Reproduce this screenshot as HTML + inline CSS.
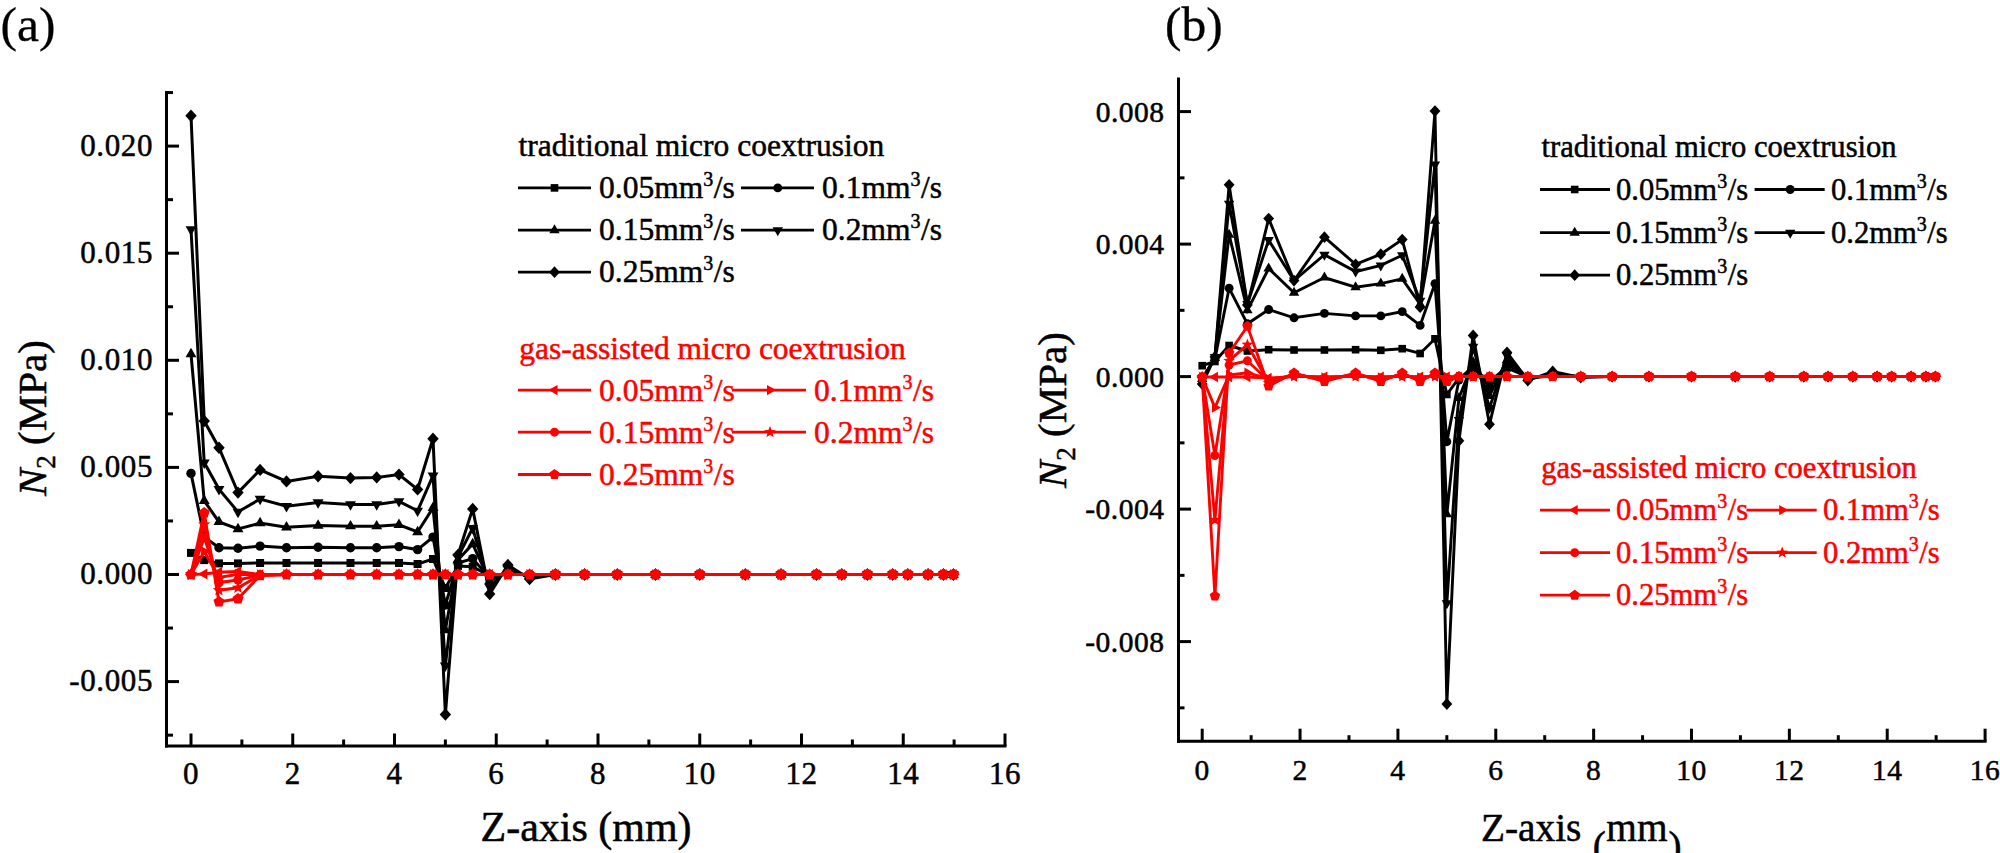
<!DOCTYPE html>
<html><head><meta charset="utf-8"><style>
html,body{margin:0;padding:0;background:#fff;width:2000px;height:853px;overflow:hidden}
svg{display:block}
text{font-family:"Liberation Serif",serif;fill:#000;stroke:#000;stroke-width:0.5px}
.tk{font-size:31px;letter-spacing:0.6px}
.tkb{font-size:29.5px;letter-spacing:0.5px}
.lg{font-size:31.5px}
.lgb{font-size:30.6px}
.sup{font-size:20px}
.pl{font-size:49.5px;stroke-width:0.3px}
.ax{font-size:41px}
.ax2{font-size:42px}
.axb{font-size:39.3px}
.sub{font-size:27px}
</style></head><body>
<svg width="2000" height="853" viewBox="0 0 2000 853">
<rect width="2000" height="853" fill="#fff"/>
<line x1="166.5" y1="91.0" x2="166.5" y2="747.5" stroke="#000" stroke-width="3.0"/><line x1="165.0" y1="746.0" x2="1006.5" y2="746.0" stroke="#000" stroke-width="3.0"/><line x1="166.5" y1="735.15" x2="173.0" y2="735.15" stroke="#000" stroke-width="3.0"/><line x1="166.5" y1="681.60" x2="179.0" y2="681.60" stroke="#000" stroke-width="3.0"/><text x="153" y="691.10" text-anchor="end" class="tk">-0.005</text><line x1="166.5" y1="628.05" x2="173.0" y2="628.05" stroke="#000" stroke-width="3.0"/><line x1="166.5" y1="574.50" x2="179.0" y2="574.50" stroke="#000" stroke-width="3.0"/><text x="153" y="584.00" text-anchor="end" class="tk">0.000</text><line x1="166.5" y1="520.95" x2="173.0" y2="520.95" stroke="#000" stroke-width="3.0"/><line x1="166.5" y1="467.40" x2="179.0" y2="467.40" stroke="#000" stroke-width="3.0"/><text x="153" y="476.90" text-anchor="end" class="tk">0.005</text><line x1="166.5" y1="413.85" x2="173.0" y2="413.85" stroke="#000" stroke-width="3.0"/><line x1="166.5" y1="360.30" x2="179.0" y2="360.30" stroke="#000" stroke-width="3.0"/><text x="153" y="369.80" text-anchor="end" class="tk">0.010</text><line x1="166.5" y1="306.75" x2="173.0" y2="306.75" stroke="#000" stroke-width="3.0"/><line x1="166.5" y1="253.20" x2="179.0" y2="253.20" stroke="#000" stroke-width="3.0"/><text x="153" y="262.70" text-anchor="end" class="tk">0.015</text><line x1="166.5" y1="199.65" x2="173.0" y2="199.65" stroke="#000" stroke-width="3.0"/><line x1="166.5" y1="146.10" x2="179.0" y2="146.10" stroke="#000" stroke-width="3.0"/><text x="153" y="155.60" text-anchor="end" class="tk">0.020</text><line x1="166.5" y1="92.55" x2="173.0" y2="92.55" stroke="#000" stroke-width="3.0"/><line x1="191.00" y1="746.0" x2="191.00" y2="733.5" stroke="#000" stroke-width="3.0"/><text x="191.00" y="784" text-anchor="middle" class="tk">0</text><line x1="241.88" y1="746.0" x2="241.88" y2="739.5" stroke="#000" stroke-width="3.0"/><line x1="292.75" y1="746.0" x2="292.75" y2="733.5" stroke="#000" stroke-width="3.0"/><text x="292.75" y="784" text-anchor="middle" class="tk">2</text><line x1="343.62" y1="746.0" x2="343.62" y2="739.5" stroke="#000" stroke-width="3.0"/><line x1="394.50" y1="746.0" x2="394.50" y2="733.5" stroke="#000" stroke-width="3.0"/><text x="394.50" y="784" text-anchor="middle" class="tk">4</text><line x1="445.38" y1="746.0" x2="445.38" y2="739.5" stroke="#000" stroke-width="3.0"/><line x1="496.25" y1="746.0" x2="496.25" y2="733.5" stroke="#000" stroke-width="3.0"/><text x="496.25" y="784" text-anchor="middle" class="tk">6</text><line x1="547.12" y1="746.0" x2="547.12" y2="739.5" stroke="#000" stroke-width="3.0"/><line x1="598.00" y1="746.0" x2="598.00" y2="733.5" stroke="#000" stroke-width="3.0"/><text x="598.00" y="784" text-anchor="middle" class="tk">8</text><line x1="648.88" y1="746.0" x2="648.88" y2="739.5" stroke="#000" stroke-width="3.0"/><line x1="699.75" y1="746.0" x2="699.75" y2="733.5" stroke="#000" stroke-width="3.0"/><text x="699.75" y="784" text-anchor="middle" class="tk">10</text><line x1="750.62" y1="746.0" x2="750.62" y2="739.5" stroke="#000" stroke-width="3.0"/><line x1="801.50" y1="746.0" x2="801.50" y2="733.5" stroke="#000" stroke-width="3.0"/><text x="801.50" y="784" text-anchor="middle" class="tk">12</text><line x1="852.38" y1="746.0" x2="852.38" y2="739.5" stroke="#000" stroke-width="3.0"/><line x1="903.25" y1="746.0" x2="903.25" y2="733.5" stroke="#000" stroke-width="3.0"/><text x="903.25" y="784" text-anchor="middle" class="tk">14</text><line x1="954.12" y1="746.0" x2="954.12" y2="739.5" stroke="#000" stroke-width="3.0"/><line x1="1005.00" y1="746.0" x2="1005.00" y2="733.5" stroke="#000" stroke-width="3.0"/><text x="1005.00" y="784" text-anchor="middle" class="tk">16</text><polyline points="191.00,552.90 204.23,560.10 218.98,563.40 238.01,563.40 260.09,563.00 286.49,563.00 318.09,563.00 350.49,563.00 376.69,563.00 398.98,563.00 417.60,564.00 433.01,559.00 445.38,588.00 457.94,566.00 472.69,566.80 489.69,576.00 507.90,573.50 529.57,575.00 555.42,574.50 584.62,574.50 617.28,574.50 655.49,574.50 699.75,574.50 745.28,574.50 781.00,574.50 816.51,574.50 841.79,574.50 867.38,574.50 892.72,574.50 907.83,574.50 928.08,574.50 943.49,574.50 953.41,574.50" fill="none" stroke="#000" stroke-width="3.0" stroke-linejoin="miter" stroke-miterlimit="3"/><rect x="187.00" y="548.90" width="8.00" height="8.00" fill="#000"/><rect x="200.23" y="556.10" width="8.00" height="8.00" fill="#000"/><rect x="214.98" y="559.40" width="8.00" height="8.00" fill="#000"/><rect x="234.01" y="559.40" width="8.00" height="8.00" fill="#000"/><rect x="256.09" y="559.00" width="8.00" height="8.00" fill="#000"/><rect x="282.49" y="559.00" width="8.00" height="8.00" fill="#000"/><rect x="314.09" y="559.00" width="8.00" height="8.00" fill="#000"/><rect x="346.49" y="559.00" width="8.00" height="8.00" fill="#000"/><rect x="372.69" y="559.00" width="8.00" height="8.00" fill="#000"/><rect x="394.98" y="559.00" width="8.00" height="8.00" fill="#000"/><rect x="413.60" y="560.00" width="8.00" height="8.00" fill="#000"/><rect x="429.01" y="555.00" width="8.00" height="8.00" fill="#000"/><rect x="441.38" y="584.00" width="8.00" height="8.00" fill="#000"/><rect x="453.94" y="562.00" width="8.00" height="8.00" fill="#000"/><rect x="468.69" y="562.80" width="8.00" height="8.00" fill="#000"/><rect x="485.69" y="572.00" width="8.00" height="8.00" fill="#000"/><rect x="503.90" y="569.50" width="8.00" height="8.00" fill="#000"/><rect x="525.57" y="571.00" width="8.00" height="8.00" fill="#000"/><rect x="551.42" y="570.50" width="8.00" height="8.00" fill="#000"/><rect x="580.62" y="570.50" width="8.00" height="8.00" fill="#000"/><rect x="613.28" y="570.50" width="8.00" height="8.00" fill="#000"/><rect x="651.49" y="570.50" width="8.00" height="8.00" fill="#000"/><rect x="695.75" y="570.50" width="8.00" height="8.00" fill="#000"/><rect x="741.28" y="570.50" width="8.00" height="8.00" fill="#000"/><rect x="777.00" y="570.50" width="8.00" height="8.00" fill="#000"/><rect x="812.51" y="570.50" width="8.00" height="8.00" fill="#000"/><rect x="837.79" y="570.50" width="8.00" height="8.00" fill="#000"/><rect x="863.38" y="570.50" width="8.00" height="8.00" fill="#000"/><rect x="888.72" y="570.50" width="8.00" height="8.00" fill="#000"/><rect x="903.83" y="570.50" width="8.00" height="8.00" fill="#000"/><rect x="924.08" y="570.50" width="8.00" height="8.00" fill="#000"/><rect x="939.49" y="570.50" width="8.00" height="8.00" fill="#000"/><rect x="949.41" y="570.50" width="8.00" height="8.00" fill="#000"/><polyline points="191.00,473.40 204.23,537.00 218.98,547.70 238.01,548.20 260.09,546.10 286.49,547.70 318.09,547.30 350.49,547.70 376.69,547.70 398.98,546.60 417.60,549.60 433.01,537.10 445.38,605.00 457.94,563.00 472.69,558.60 489.69,578.00 507.90,572.50 529.57,575.50 555.42,574.50 584.62,574.50 617.28,574.50 655.49,574.50 699.75,574.50 745.28,574.50 781.00,574.50 816.51,574.50 841.79,574.50 867.38,574.50 892.72,574.50 907.83,574.50 928.08,574.50 943.49,574.50 953.41,574.50" fill="none" stroke="#000" stroke-width="3.0" stroke-linejoin="miter" stroke-miterlimit="3"/><circle cx="191.00" cy="473.40" r="4.70" fill="#000"/><circle cx="204.23" cy="537.00" r="4.70" fill="#000"/><circle cx="218.98" cy="547.70" r="4.70" fill="#000"/><circle cx="238.01" cy="548.20" r="4.70" fill="#000"/><circle cx="260.09" cy="546.10" r="4.70" fill="#000"/><circle cx="286.49" cy="547.70" r="4.70" fill="#000"/><circle cx="318.09" cy="547.30" r="4.70" fill="#000"/><circle cx="350.49" cy="547.70" r="4.70" fill="#000"/><circle cx="376.69" cy="547.70" r="4.70" fill="#000"/><circle cx="398.98" cy="546.60" r="4.70" fill="#000"/><circle cx="417.60" cy="549.60" r="4.70" fill="#000"/><circle cx="433.01" cy="537.10" r="4.70" fill="#000"/><circle cx="445.38" cy="605.00" r="4.70" fill="#000"/><circle cx="457.94" cy="563.00" r="4.70" fill="#000"/><circle cx="472.69" cy="558.60" r="4.70" fill="#000"/><circle cx="489.69" cy="578.00" r="4.70" fill="#000"/><circle cx="507.90" cy="572.50" r="4.70" fill="#000"/><circle cx="529.57" cy="575.50" r="4.70" fill="#000"/><circle cx="555.42" cy="574.50" r="4.70" fill="#000"/><circle cx="584.62" cy="574.50" r="4.70" fill="#000"/><circle cx="617.28" cy="574.50" r="4.70" fill="#000"/><circle cx="655.49" cy="574.50" r="4.70" fill="#000"/><circle cx="699.75" cy="574.50" r="4.70" fill="#000"/><circle cx="745.28" cy="574.50" r="4.70" fill="#000"/><circle cx="781.00" cy="574.50" r="4.70" fill="#000"/><circle cx="816.51" cy="574.50" r="4.70" fill="#000"/><circle cx="841.79" cy="574.50" r="4.70" fill="#000"/><circle cx="867.38" cy="574.50" r="4.70" fill="#000"/><circle cx="892.72" cy="574.50" r="4.70" fill="#000"/><circle cx="907.83" cy="574.50" r="4.70" fill="#000"/><circle cx="928.08" cy="574.50" r="4.70" fill="#000"/><circle cx="943.49" cy="574.50" r="4.70" fill="#000"/><circle cx="953.41" cy="574.50" r="4.70" fill="#000"/><polyline points="191.00,354.00 204.23,500.90 218.98,521.90 238.01,529.00 260.09,523.10 286.49,527.30 318.09,525.50 350.49,526.20 376.69,526.20 398.98,524.80 417.60,532.00 433.01,507.90 445.38,630.00 457.94,560.00 472.69,544.00 489.69,581.00 507.90,571.00 529.57,576.00 555.42,574.50 584.62,574.50 617.28,574.50 655.49,574.50 699.75,574.50 745.28,574.50 781.00,574.50 816.51,574.50 841.79,574.50 867.38,574.50 892.72,574.50 907.83,574.50 928.08,574.50 943.49,574.50 953.41,574.50" fill="none" stroke="#000" stroke-width="3.0" stroke-linejoin="miter" stroke-miterlimit="3"/><polygon points="191.00,347.70 196.46,357.15 185.54,357.15" fill="#000"/><polygon points="204.23,494.60 209.68,504.05 198.77,504.05" fill="#000"/><polygon points="218.98,515.60 224.44,525.05 213.53,525.05" fill="#000"/><polygon points="238.01,522.70 243.46,532.15 232.55,532.15" fill="#000"/><polygon points="260.09,516.80 265.54,526.25 254.63,526.25" fill="#000"/><polygon points="286.49,521.00 291.95,530.45 281.04,530.45" fill="#000"/><polygon points="318.09,519.20 323.54,528.65 312.63,528.65" fill="#000"/><polygon points="350.49,519.90 355.95,529.35 345.04,529.35" fill="#000"/><polygon points="376.69,519.90 382.15,529.35 371.24,529.35" fill="#000"/><polygon points="398.98,518.50 404.43,527.95 393.52,527.95" fill="#000"/><polygon points="417.60,525.70 423.05,535.15 412.14,535.15" fill="#000"/><polygon points="433.01,501.60 438.47,511.05 427.56,511.05" fill="#000"/><polygon points="445.38,623.70 450.83,633.15 439.92,633.15" fill="#000"/><polygon points="457.94,553.70 463.40,563.15 452.49,563.15" fill="#000"/><polygon points="472.69,537.70 478.15,547.15 467.24,547.15" fill="#000"/><polygon points="489.69,574.70 495.14,584.15 484.23,584.15" fill="#000"/><polygon points="507.90,564.70 513.36,574.15 502.44,574.15" fill="#000"/><polygon points="529.57,569.70 535.03,579.15 524.12,579.15" fill="#000"/><polygon points="555.42,568.20 560.87,577.65 549.96,577.65" fill="#000"/><polygon points="584.62,568.20 590.08,577.65 579.16,577.65" fill="#000"/><polygon points="617.28,568.20 622.74,577.65 611.83,577.65" fill="#000"/><polygon points="655.49,568.20 660.94,577.65 650.03,577.65" fill="#000"/><polygon points="699.75,568.20 705.21,577.65 694.29,577.65" fill="#000"/><polygon points="745.28,568.20 750.74,577.65 739.83,577.65" fill="#000"/><polygon points="781.00,568.20 786.45,577.65 775.54,577.65" fill="#000"/><polygon points="816.51,568.20 821.96,577.65 811.05,577.65" fill="#000"/><polygon points="841.79,568.20 847.25,577.65 836.34,577.65" fill="#000"/><polygon points="867.38,568.20 872.84,577.65 861.93,577.65" fill="#000"/><polygon points="892.72,568.20 898.17,577.65 887.26,577.65" fill="#000"/><polygon points="907.83,568.20 913.28,577.65 902.37,577.65" fill="#000"/><polygon points="928.08,568.20 933.53,577.65 922.62,577.65" fill="#000"/><polygon points="943.49,568.20 948.95,577.65 938.04,577.65" fill="#000"/><polygon points="953.41,568.20 958.87,577.65 947.96,577.65" fill="#000"/><polyline points="191.00,229.50 204.23,462.60 218.98,489.10 238.01,511.90 260.09,499.00 286.49,506.20 318.09,502.50 350.49,504.40 376.69,504.40 398.98,501.30 417.60,510.80 433.01,475.60 445.38,665.70 457.94,557.00 472.69,528.10 489.69,587.00 507.90,569.00 529.57,577.00 555.42,574.50 584.62,574.50 617.28,574.50 655.49,574.50 699.75,574.50 745.28,574.50 781.00,574.50 816.51,574.50 841.79,574.50 867.38,574.50 892.72,574.50 907.83,574.50 928.08,574.50 943.49,574.50 953.41,574.50" fill="none" stroke="#000" stroke-width="3.0" stroke-linejoin="miter" stroke-miterlimit="3"/><polygon points="191.00,235.80 185.54,226.35 196.46,226.35" fill="#000"/><polygon points="204.23,468.90 198.77,459.45 209.68,459.45" fill="#000"/><polygon points="218.98,495.40 213.53,485.95 224.44,485.95" fill="#000"/><polygon points="238.01,518.20 232.55,508.75 243.46,508.75" fill="#000"/><polygon points="260.09,505.30 254.63,495.85 265.54,495.85" fill="#000"/><polygon points="286.49,512.50 281.04,503.05 291.95,503.05" fill="#000"/><polygon points="318.09,508.80 312.63,499.35 323.54,499.35" fill="#000"/><polygon points="350.49,510.70 345.04,501.25 355.95,501.25" fill="#000"/><polygon points="376.69,510.70 371.24,501.25 382.15,501.25" fill="#000"/><polygon points="398.98,507.60 393.52,498.15 404.43,498.15" fill="#000"/><polygon points="417.60,517.10 412.14,507.65 423.05,507.65" fill="#000"/><polygon points="433.01,481.90 427.56,472.45 438.47,472.45" fill="#000"/><polygon points="445.38,672.00 439.92,662.55 450.83,662.55" fill="#000"/><polygon points="457.94,563.30 452.49,553.85 463.40,553.85" fill="#000"/><polygon points="472.69,534.40 467.24,524.95 478.15,524.95" fill="#000"/><polygon points="489.69,593.30 484.23,583.85 495.14,583.85" fill="#000"/><polygon points="507.90,575.30 502.44,565.85 513.36,565.85" fill="#000"/><polygon points="529.57,583.30 524.12,573.85 535.03,573.85" fill="#000"/><polygon points="555.42,580.80 549.96,571.35 560.87,571.35" fill="#000"/><polygon points="584.62,580.80 579.16,571.35 590.08,571.35" fill="#000"/><polygon points="617.28,580.80 611.83,571.35 622.74,571.35" fill="#000"/><polygon points="655.49,580.80 650.03,571.35 660.94,571.35" fill="#000"/><polygon points="699.75,580.80 694.29,571.35 705.21,571.35" fill="#000"/><polygon points="745.28,580.80 739.83,571.35 750.74,571.35" fill="#000"/><polygon points="781.00,580.80 775.54,571.35 786.45,571.35" fill="#000"/><polygon points="816.51,580.80 811.05,571.35 821.96,571.35" fill="#000"/><polygon points="841.79,580.80 836.34,571.35 847.25,571.35" fill="#000"/><polygon points="867.38,580.80 861.93,571.35 872.84,571.35" fill="#000"/><polygon points="892.72,580.80 887.26,571.35 898.17,571.35" fill="#000"/><polygon points="907.83,580.80 902.37,571.35 913.28,571.35" fill="#000"/><polygon points="928.08,580.80 922.62,571.35 933.53,571.35" fill="#000"/><polygon points="943.49,580.80 938.04,571.35 948.95,571.35" fill="#000"/><polygon points="953.41,580.80 947.96,571.35 958.87,571.35" fill="#000"/><polyline points="191.00,115.80 204.23,421.00 218.98,447.70 238.01,492.60 260.09,469.90 286.49,481.40 318.09,476.20 350.49,478.10 376.69,477.40 398.98,474.60 417.60,489.40 433.01,438.80 445.38,714.50 457.94,555.00 472.69,508.90 489.69,594.00 507.90,565.00 529.57,579.00 555.42,574.50 584.62,574.50 617.28,574.50 655.49,574.50 699.75,574.50 745.28,574.50 781.00,574.50 816.51,574.50 841.79,574.50 867.38,574.50 892.72,574.50 907.83,574.50 928.08,574.50 943.49,574.50 953.41,574.50" fill="none" stroke="#000" stroke-width="3.0" stroke-linejoin="miter" stroke-miterlimit="3"/><path d="M191.00 109.60L196.70 115.80L191.00 122.00L185.30 115.80Z" fill="#000"/><path d="M204.23 414.80L209.93 421.00L204.23 427.20L198.53 421.00Z" fill="#000"/><path d="M218.98 441.50L224.68 447.70L218.98 453.90L213.28 447.70Z" fill="#000"/><path d="M238.01 486.40L243.71 492.60L238.01 498.80L232.31 492.60Z" fill="#000"/><path d="M260.09 463.70L265.79 469.90L260.09 476.10L254.39 469.90Z" fill="#000"/><path d="M286.49 475.20L292.19 481.40L286.49 487.60L280.79 481.40Z" fill="#000"/><path d="M318.09 470.00L323.79 476.20L318.09 482.40L312.39 476.20Z" fill="#000"/><path d="M350.49 471.90L356.19 478.10L350.49 484.30L344.79 478.10Z" fill="#000"/><path d="M376.69 471.20L382.39 477.40L376.69 483.60L370.99 477.40Z" fill="#000"/><path d="M398.98 468.40L404.68 474.60L398.98 480.80L393.28 474.60Z" fill="#000"/><path d="M417.60 483.20L423.30 489.40L417.60 495.60L411.90 489.40Z" fill="#000"/><path d="M433.01 432.60L438.71 438.80L433.01 445.00L427.31 438.80Z" fill="#000"/><path d="M445.38 708.30L451.07 714.50L445.38 720.70L439.68 714.50Z" fill="#000"/><path d="M457.94 548.80L463.64 555.00L457.94 561.20L452.24 555.00Z" fill="#000"/><path d="M472.69 502.70L478.39 508.90L472.69 515.10L466.99 508.90Z" fill="#000"/><path d="M489.69 587.80L495.39 594.00L489.69 600.20L483.99 594.00Z" fill="#000"/><path d="M507.90 558.80L513.60 565.00L507.90 571.20L502.20 565.00Z" fill="#000"/><path d="M529.57 572.80L535.27 579.00L529.57 585.20L523.87 579.00Z" fill="#000"/><path d="M555.42 568.30L561.12 574.50L555.42 580.70L549.72 574.50Z" fill="#000"/><path d="M584.62 568.30L590.32 574.50L584.62 580.70L578.92 574.50Z" fill="#000"/><path d="M617.28 568.30L622.98 574.50L617.28 580.70L611.58 574.50Z" fill="#000"/><path d="M655.49 568.30L661.19 574.50L655.49 580.70L649.79 574.50Z" fill="#000"/><path d="M699.75 568.30L705.45 574.50L699.75 580.70L694.05 574.50Z" fill="#000"/><path d="M745.28 568.30L750.98 574.50L745.28 580.70L739.58 574.50Z" fill="#000"/><path d="M781.00 568.30L786.70 574.50L781.00 580.70L775.30 574.50Z" fill="#000"/><path d="M816.51 568.30L822.21 574.50L816.51 580.70L810.81 574.50Z" fill="#000"/><path d="M841.79 568.30L847.49 574.50L841.79 580.70L836.09 574.50Z" fill="#000"/><path d="M867.38 568.30L873.08 574.50L867.38 580.70L861.68 574.50Z" fill="#000"/><path d="M892.72 568.30L898.42 574.50L892.72 580.70L887.02 574.50Z" fill="#000"/><path d="M907.83 568.30L913.53 574.50L907.83 580.70L902.13 574.50Z" fill="#000"/><path d="M928.08 568.30L933.78 574.50L928.08 580.70L922.38 574.50Z" fill="#000"/><path d="M943.49 568.30L949.19 574.50L943.49 580.70L937.79 574.50Z" fill="#000"/><path d="M953.41 568.30L959.11 574.50L953.41 580.70L947.71 574.50Z" fill="#000"/><polyline points="191.00,574.50 204.23,574.00 218.98,572.30 238.01,571.60 260.09,574.60 286.49,574.50 318.09,574.50 350.49,574.50 376.69,574.50 398.98,574.50 417.60,574.50 433.01,574.50 445.38,574.50 457.94,574.50 472.69,574.50 489.69,574.50 507.90,574.50 529.57,574.50 555.42,574.50 584.62,574.50 617.28,574.50 655.49,574.50 699.75,574.50 745.28,574.50 781.00,574.50 816.51,574.50 841.79,574.50 867.38,574.50 892.72,574.50 907.83,574.50 928.08,574.50 943.49,574.50 953.41,574.50" fill="none" stroke="#ff0000" stroke-width="3.0" stroke-linejoin="miter" stroke-miterlimit="3"/><polygon points="184.70,574.50 194.15,569.04 194.15,579.96" fill="#ff0000"/><polygon points="197.93,574.00 207.38,568.54 207.38,579.46" fill="#ff0000"/><polygon points="212.68,572.30 222.13,566.84 222.13,577.76" fill="#ff0000"/><polygon points="231.71,571.60 241.16,566.14 241.16,577.06" fill="#ff0000"/><polygon points="253.79,574.60 263.24,569.14 263.24,580.06" fill="#ff0000"/><polygon points="280.19,574.50 289.64,569.04 289.64,579.96" fill="#ff0000"/><polygon points="311.79,574.50 321.24,569.04 321.24,579.96" fill="#ff0000"/><polygon points="344.19,574.50 353.64,569.04 353.64,579.96" fill="#ff0000"/><polygon points="370.39,574.50 379.84,569.04 379.84,579.96" fill="#ff0000"/><polygon points="392.68,574.50 402.13,569.04 402.13,579.96" fill="#ff0000"/><polygon points="411.30,574.50 420.75,569.04 420.75,579.96" fill="#ff0000"/><polygon points="426.71,574.50 436.16,569.04 436.16,579.96" fill="#ff0000"/><polygon points="439.07,574.50 448.52,569.04 448.52,579.96" fill="#ff0000"/><polygon points="451.64,574.50 461.09,569.04 461.09,579.96" fill="#ff0000"/><polygon points="466.39,574.50 475.84,569.04 475.84,579.96" fill="#ff0000"/><polygon points="483.39,574.50 492.84,569.04 492.84,579.96" fill="#ff0000"/><polygon points="501.60,574.50 511.05,569.04 511.05,579.96" fill="#ff0000"/><polygon points="523.27,574.50 532.72,569.04 532.72,579.96" fill="#ff0000"/><polygon points="549.12,574.50 558.57,569.04 558.57,579.96" fill="#ff0000"/><polygon points="578.32,574.50 587.77,569.04 587.77,579.96" fill="#ff0000"/><polygon points="610.98,574.50 620.43,569.04 620.43,579.96" fill="#ff0000"/><polygon points="649.19,574.50 658.64,569.04 658.64,579.96" fill="#ff0000"/><polygon points="693.45,574.50 702.90,569.04 702.90,579.96" fill="#ff0000"/><polygon points="738.98,574.50 748.43,569.04 748.43,579.96" fill="#ff0000"/><polygon points="774.70,574.50 784.15,569.04 784.15,579.96" fill="#ff0000"/><polygon points="810.21,574.50 819.66,569.04 819.66,579.96" fill="#ff0000"/><polygon points="835.49,574.50 844.94,569.04 844.94,579.96" fill="#ff0000"/><polygon points="861.08,574.50 870.53,569.04 870.53,579.96" fill="#ff0000"/><polygon points="886.42,574.50 895.87,569.04 895.87,579.96" fill="#ff0000"/><polygon points="901.53,574.50 910.98,569.04 910.98,579.96" fill="#ff0000"/><polygon points="921.78,574.50 931.23,569.04 931.23,579.96" fill="#ff0000"/><polygon points="937.19,574.50 946.64,569.04 946.64,579.96" fill="#ff0000"/><polygon points="947.11,574.50 956.56,569.04 956.56,579.96" fill="#ff0000"/><polyline points="191.00,574.50 204.23,551.60 218.98,577.40 238.01,574.20 260.09,574.80 286.49,574.50 318.09,574.50 350.49,574.50 376.69,574.50 398.98,574.50 417.60,574.50 433.01,574.50 445.38,574.50 457.94,574.50 472.69,574.50 489.69,574.50 507.90,574.50 529.57,574.50 555.42,574.50 584.62,574.50 617.28,574.50 655.49,574.50 699.75,574.50 745.28,574.50 781.00,574.50 816.51,574.50 841.79,574.50 867.38,574.50 892.72,574.50 907.83,574.50 928.08,574.50 943.49,574.50 953.41,574.50" fill="none" stroke="#ff0000" stroke-width="3.0" stroke-linejoin="miter" stroke-miterlimit="3"/><polygon points="197.30,574.50 187.85,579.96 187.85,569.04" fill="#ff0000"/><polygon points="210.53,551.60 201.08,557.06 201.08,546.14" fill="#ff0000"/><polygon points="225.28,577.40 215.83,582.86 215.83,571.94" fill="#ff0000"/><polygon points="244.31,574.20 234.86,579.66 234.86,568.74" fill="#ff0000"/><polygon points="266.39,574.80 256.94,580.26 256.94,569.34" fill="#ff0000"/><polygon points="292.79,574.50 283.34,579.96 283.34,569.04" fill="#ff0000"/><polygon points="324.39,574.50 314.94,579.96 314.94,569.04" fill="#ff0000"/><polygon points="356.79,574.50 347.34,579.96 347.34,569.04" fill="#ff0000"/><polygon points="382.99,574.50 373.54,579.96 373.54,569.04" fill="#ff0000"/><polygon points="405.28,574.50 395.83,579.96 395.83,569.04" fill="#ff0000"/><polygon points="423.90,574.50 414.45,579.96 414.45,569.04" fill="#ff0000"/><polygon points="439.31,574.50 429.86,579.96 429.86,569.04" fill="#ff0000"/><polygon points="451.68,574.50 442.23,579.96 442.23,569.04" fill="#ff0000"/><polygon points="464.24,574.50 454.79,579.96 454.79,569.04" fill="#ff0000"/><polygon points="478.99,574.50 469.54,579.96 469.54,569.04" fill="#ff0000"/><polygon points="495.99,574.50 486.54,579.96 486.54,569.04" fill="#ff0000"/><polygon points="514.20,574.50 504.75,579.96 504.75,569.04" fill="#ff0000"/><polygon points="535.87,574.50 526.42,579.96 526.42,569.04" fill="#ff0000"/><polygon points="561.72,574.50 552.27,579.96 552.27,569.04" fill="#ff0000"/><polygon points="590.92,574.50 581.47,579.96 581.47,569.04" fill="#ff0000"/><polygon points="623.58,574.50 614.13,579.96 614.13,569.04" fill="#ff0000"/><polygon points="661.79,574.50 652.34,579.96 652.34,569.04" fill="#ff0000"/><polygon points="706.05,574.50 696.60,579.96 696.60,569.04" fill="#ff0000"/><polygon points="751.58,574.50 742.13,579.96 742.13,569.04" fill="#ff0000"/><polygon points="787.30,574.50 777.85,579.96 777.85,569.04" fill="#ff0000"/><polygon points="822.81,574.50 813.36,579.96 813.36,569.04" fill="#ff0000"/><polygon points="848.09,574.50 838.64,579.96 838.64,569.04" fill="#ff0000"/><polygon points="873.68,574.50 864.23,579.96 864.23,569.04" fill="#ff0000"/><polygon points="899.02,574.50 889.57,579.96 889.57,569.04" fill="#ff0000"/><polygon points="914.13,574.50 904.68,579.96 904.68,569.04" fill="#ff0000"/><polygon points="934.38,574.50 924.93,579.96 924.93,569.04" fill="#ff0000"/><polygon points="949.79,574.50 940.34,579.96 940.34,569.04" fill="#ff0000"/><polygon points="959.71,574.50 950.26,579.96 950.26,569.04" fill="#ff0000"/><polyline points="191.00,574.50 204.23,537.40 218.98,582.60 238.01,580.00 260.09,575.00 286.49,574.50 318.09,574.50 350.49,574.50 376.69,574.50 398.98,574.50 417.60,574.50 433.01,574.50 445.38,574.50 457.94,574.50 472.69,574.50 489.69,574.50 507.90,574.50 529.57,574.50 555.42,574.50 584.62,574.50 617.28,574.50 655.49,574.50 699.75,574.50 745.28,574.50 781.00,574.50 816.51,574.50 841.79,574.50 867.38,574.50 892.72,574.50 907.83,574.50 928.08,574.50 943.49,574.50 953.41,574.50" fill="none" stroke="#ff0000" stroke-width="3.0" stroke-linejoin="miter" stroke-miterlimit="3"/><circle cx="191.00" cy="574.50" r="4.70" fill="#ff0000"/><circle cx="204.23" cy="537.40" r="4.70" fill="#ff0000"/><circle cx="218.98" cy="582.60" r="4.70" fill="#ff0000"/><circle cx="238.01" cy="580.00" r="4.70" fill="#ff0000"/><circle cx="260.09" cy="575.00" r="4.70" fill="#ff0000"/><circle cx="286.49" cy="574.50" r="4.70" fill="#ff0000"/><circle cx="318.09" cy="574.50" r="4.70" fill="#ff0000"/><circle cx="350.49" cy="574.50" r="4.70" fill="#ff0000"/><circle cx="376.69" cy="574.50" r="4.70" fill="#ff0000"/><circle cx="398.98" cy="574.50" r="4.70" fill="#ff0000"/><circle cx="417.60" cy="574.50" r="4.70" fill="#ff0000"/><circle cx="433.01" cy="574.50" r="4.70" fill="#ff0000"/><circle cx="445.38" cy="574.50" r="4.70" fill="#ff0000"/><circle cx="457.94" cy="574.50" r="4.70" fill="#ff0000"/><circle cx="472.69" cy="574.50" r="4.70" fill="#ff0000"/><circle cx="489.69" cy="574.50" r="4.70" fill="#ff0000"/><circle cx="507.90" cy="574.50" r="4.70" fill="#ff0000"/><circle cx="529.57" cy="574.50" r="4.70" fill="#ff0000"/><circle cx="555.42" cy="574.50" r="4.70" fill="#ff0000"/><circle cx="584.62" cy="574.50" r="4.70" fill="#ff0000"/><circle cx="617.28" cy="574.50" r="4.70" fill="#ff0000"/><circle cx="655.49" cy="574.50" r="4.70" fill="#ff0000"/><circle cx="699.75" cy="574.50" r="4.70" fill="#ff0000"/><circle cx="745.28" cy="574.50" r="4.70" fill="#ff0000"/><circle cx="781.00" cy="574.50" r="4.70" fill="#ff0000"/><circle cx="816.51" cy="574.50" r="4.70" fill="#ff0000"/><circle cx="841.79" cy="574.50" r="4.70" fill="#ff0000"/><circle cx="867.38" cy="574.50" r="4.70" fill="#ff0000"/><circle cx="892.72" cy="574.50" r="4.70" fill="#ff0000"/><circle cx="907.83" cy="574.50" r="4.70" fill="#ff0000"/><circle cx="928.08" cy="574.50" r="4.70" fill="#ff0000"/><circle cx="943.49" cy="574.50" r="4.70" fill="#ff0000"/><circle cx="953.41" cy="574.50" r="4.70" fill="#ff0000"/><polyline points="191.00,574.50 204.23,524.50 218.98,590.30 238.01,587.70 260.09,575.20 286.49,574.50 318.09,574.50 350.49,574.50 376.69,574.50 398.98,574.50 417.60,574.50 433.01,574.50 445.38,574.50 457.94,574.50 472.69,574.50 489.69,574.50 507.90,574.50 529.57,574.50 555.42,574.50 584.62,574.50 617.28,574.50 655.49,574.50 699.75,574.50 745.28,574.50 781.00,574.50 816.51,574.50 841.79,574.50 867.38,574.50 892.72,574.50 907.83,574.50 928.08,574.50 943.49,574.50 953.41,574.50" fill="none" stroke="#ff0000" stroke-width="3.0" stroke-linejoin="miter" stroke-miterlimit="3"/><polygon points="191.00,568.00 192.65,572.23 197.18,572.49 193.66,575.37 194.82,579.76 191.00,577.30 187.18,579.76 188.34,575.37 184.82,572.49 189.35,572.23" fill="#ff0000"/><polygon points="204.23,518.00 205.87,522.23 210.41,522.49 206.89,525.37 208.05,529.76 204.23,527.30 200.41,529.76 201.56,525.37 198.05,522.49 202.58,522.23" fill="#ff0000"/><polygon points="218.98,583.80 220.63,588.03 225.16,588.29 221.64,591.17 222.80,595.56 218.98,593.10 215.16,595.56 216.32,591.17 212.80,588.29 217.34,588.03" fill="#ff0000"/><polygon points="238.01,581.20 239.65,585.43 244.19,585.69 240.67,588.57 241.83,592.96 238.01,590.50 234.19,592.96 235.35,588.57 231.83,585.69 236.36,585.43" fill="#ff0000"/><polygon points="260.09,568.70 261.73,572.93 266.27,573.19 262.75,576.07 263.91,580.46 260.09,578.00 256.27,580.46 257.43,576.07 253.91,573.19 258.44,572.93" fill="#ff0000"/><polygon points="286.49,568.00 288.14,572.23 292.67,572.49 289.16,575.37 290.31,579.76 286.49,577.30 282.67,579.76 283.83,575.37 280.31,572.49 284.85,572.23" fill="#ff0000"/><polygon points="318.09,568.00 319.73,572.23 324.27,572.49 320.75,575.37 321.91,579.76 318.09,577.30 314.27,579.76 315.42,575.37 311.90,572.49 316.44,572.23" fill="#ff0000"/><polygon points="350.49,568.00 352.14,572.23 356.67,572.49 353.16,575.37 354.31,579.76 350.49,577.30 346.67,579.76 347.83,575.37 344.31,572.49 348.85,572.23" fill="#ff0000"/><polygon points="376.69,568.00 378.34,572.23 382.88,572.49 379.36,575.37 380.51,579.76 376.69,577.30 372.87,579.76 374.03,575.37 370.51,572.49 375.05,572.23" fill="#ff0000"/><polygon points="398.98,568.00 400.62,572.23 405.16,572.49 401.64,575.37 402.80,579.76 398.98,577.30 395.16,579.76 396.31,575.37 392.80,572.49 397.33,572.23" fill="#ff0000"/><polygon points="417.60,568.00 419.24,572.23 423.78,572.49 420.26,575.37 421.42,579.76 417.60,577.30 413.78,579.76 414.93,575.37 411.42,572.49 415.95,572.23" fill="#ff0000"/><polygon points="433.01,568.00 434.66,572.23 439.19,572.49 435.68,575.37 436.83,579.76 433.01,577.30 429.19,579.76 430.35,575.37 426.83,572.49 431.37,572.23" fill="#ff0000"/><polygon points="445.38,568.00 447.02,572.23 451.56,572.49 448.04,575.37 449.20,579.76 445.38,577.30 441.55,579.76 442.71,575.37 439.19,572.49 443.73,572.23" fill="#ff0000"/><polygon points="457.94,568.00 459.59,572.23 464.12,572.49 460.60,575.37 461.76,579.76 457.94,577.30 454.12,579.76 455.28,575.37 451.76,572.49 456.30,572.23" fill="#ff0000"/><polygon points="472.69,568.00 474.34,572.23 478.88,572.49 475.36,575.37 476.52,579.76 472.69,577.30 468.87,579.76 470.03,575.37 466.51,572.49 471.05,572.23" fill="#ff0000"/><polygon points="489.69,568.00 491.33,572.23 495.87,572.49 492.35,575.37 493.51,579.76 489.69,577.30 485.87,579.76 487.02,575.37 483.51,572.49 488.04,572.23" fill="#ff0000"/><polygon points="507.90,568.00 509.55,572.23 514.08,572.49 510.56,575.37 511.72,579.76 507.90,577.30 504.08,579.76 505.24,575.37 501.72,572.49 506.25,572.23" fill="#ff0000"/><polygon points="529.57,568.00 531.22,572.23 535.75,572.49 532.24,575.37 533.39,579.76 529.57,577.30 525.75,579.76 526.91,575.37 523.39,572.49 527.93,572.23" fill="#ff0000"/><polygon points="555.42,568.00 557.06,572.23 561.60,572.49 558.08,575.37 559.24,579.76 555.42,577.30 551.60,579.76 552.75,575.37 549.24,572.49 553.77,572.23" fill="#ff0000"/><polygon points="584.62,568.00 586.27,572.23 590.80,572.49 587.28,575.37 588.44,579.76 584.62,577.30 580.80,579.76 581.96,575.37 578.44,572.49 582.97,572.23" fill="#ff0000"/><polygon points="617.28,568.00 618.93,572.23 623.46,572.49 619.94,575.37 621.10,579.76 617.28,577.30 613.46,579.76 614.62,575.37 611.10,572.49 615.64,572.23" fill="#ff0000"/><polygon points="655.49,568.00 657.13,572.23 661.67,572.49 658.15,575.37 659.31,579.76 655.49,577.30 651.67,579.76 652.83,575.37 649.31,572.49 653.84,572.23" fill="#ff0000"/><polygon points="699.75,568.00 701.40,572.23 705.93,572.49 702.41,575.37 703.57,579.76 699.75,577.30 695.93,579.76 697.09,575.37 693.57,572.49 698.10,572.23" fill="#ff0000"/><polygon points="745.28,568.00 746.93,572.23 751.46,572.49 747.95,575.37 749.10,579.76 745.28,577.30 741.46,579.76 742.62,575.37 739.10,572.49 743.64,572.23" fill="#ff0000"/><polygon points="781.00,568.00 782.64,572.23 787.18,572.49 783.66,575.37 784.82,579.76 781.00,577.30 777.18,579.76 778.33,575.37 774.82,572.49 779.35,572.23" fill="#ff0000"/><polygon points="816.51,568.00 818.15,572.23 822.69,572.49 819.17,575.37 820.33,579.76 816.51,577.30 812.69,579.76 813.85,575.37 810.33,572.49 814.86,572.23" fill="#ff0000"/><polygon points="841.79,568.00 843.44,572.23 847.97,572.49 844.46,575.37 845.61,579.76 841.79,577.30 837.97,579.76 839.13,575.37 835.61,572.49 840.15,572.23" fill="#ff0000"/><polygon points="867.38,568.00 869.03,572.23 873.56,572.49 870.05,575.37 871.20,579.76 867.38,577.30 863.56,579.76 864.72,575.37 861.20,572.49 865.74,572.23" fill="#ff0000"/><polygon points="892.72,568.00 894.36,572.23 898.90,572.49 895.38,575.37 896.54,579.76 892.72,577.30 888.90,579.76 890.06,575.37 886.54,572.49 891.07,572.23" fill="#ff0000"/><polygon points="907.83,568.00 909.47,572.23 914.01,572.49 910.49,575.37 911.65,579.76 907.83,577.30 904.01,579.76 905.17,575.37 901.65,572.49 906.18,572.23" fill="#ff0000"/><polygon points="928.08,568.00 929.72,572.23 934.26,572.49 930.74,575.37 931.90,579.76 928.08,577.30 924.26,579.76 925.41,575.37 921.90,572.49 926.43,572.23" fill="#ff0000"/><polygon points="943.49,568.00 945.14,572.23 949.67,572.49 946.16,575.37 947.31,579.76 943.49,577.30 939.67,579.76 940.83,575.37 937.31,572.49 941.85,572.23" fill="#ff0000"/><polygon points="953.41,568.00 955.06,572.23 959.59,572.49 956.08,575.37 957.23,579.76 953.41,577.30 949.59,579.76 950.75,575.37 947.23,572.49 951.77,572.23" fill="#ff0000"/><polyline points="191.00,574.50 204.23,512.90 218.98,601.90 238.01,598.70 260.09,575.50 286.49,574.50 318.09,574.50 350.49,574.50 376.69,574.50 398.98,574.50 417.60,574.50 433.01,574.50 445.38,574.50 457.94,574.50 472.69,574.50 489.69,574.50 507.90,574.50 529.57,574.50 555.42,574.50 584.62,574.50 617.28,574.50 655.49,574.50 699.75,574.50 745.28,574.50 781.00,574.50 816.51,574.50 841.79,574.50 867.38,574.50 892.72,574.50 907.83,574.50 928.08,574.50 943.49,574.50 953.41,574.50" fill="none" stroke="#ff0000" stroke-width="3.0" stroke-linejoin="miter" stroke-miterlimit="3"/><polygon points="191.00,568.70 196.52,572.71 194.41,579.19 187.59,579.19 185.48,572.71" fill="#ff0000"/><polygon points="204.23,507.10 209.74,511.11 207.64,517.59 200.82,517.59 198.71,511.11" fill="#ff0000"/><polygon points="218.98,596.10 224.50,600.11 222.39,606.59 215.57,606.59 213.47,600.11" fill="#ff0000"/><polygon points="238.01,592.90 243.52,596.91 241.42,603.39 234.60,603.39 232.49,596.91" fill="#ff0000"/><polygon points="260.09,569.70 265.60,573.71 263.50,580.19 256.68,580.19 254.57,573.71" fill="#ff0000"/><polygon points="286.49,568.70 292.01,572.71 289.90,579.19 283.08,579.19 280.98,572.71" fill="#ff0000"/><polygon points="318.09,568.70 323.60,572.71 321.49,579.19 314.68,579.19 312.57,572.71" fill="#ff0000"/><polygon points="350.49,568.70 356.01,572.71 353.90,579.19 347.08,579.19 344.98,572.71" fill="#ff0000"/><polygon points="376.69,568.70 382.21,572.71 380.10,579.19 373.28,579.19 371.18,572.71" fill="#ff0000"/><polygon points="398.98,568.70 404.49,572.71 402.39,579.19 395.57,579.19 393.46,572.71" fill="#ff0000"/><polygon points="417.60,568.70 423.11,572.71 421.01,579.19 414.19,579.19 412.08,572.71" fill="#ff0000"/><polygon points="433.01,568.70 438.53,572.71 436.42,579.19 429.60,579.19 427.50,572.71" fill="#ff0000"/><polygon points="445.38,568.70 450.89,572.71 448.78,579.19 441.97,579.19 439.86,572.71" fill="#ff0000"/><polygon points="457.94,568.70 463.46,572.71 461.35,579.19 454.53,579.19 452.42,572.71" fill="#ff0000"/><polygon points="472.69,568.70 478.21,572.71 476.10,579.19 469.29,579.19 467.18,572.71" fill="#ff0000"/><polygon points="489.69,568.70 495.20,572.71 493.10,579.19 486.28,579.19 484.17,572.71" fill="#ff0000"/><polygon points="507.90,568.70 513.42,572.71 511.31,579.19 504.49,579.19 502.38,572.71" fill="#ff0000"/><polygon points="529.57,568.70 535.09,572.71 532.98,579.19 526.16,579.19 524.06,572.71" fill="#ff0000"/><polygon points="555.42,568.70 560.93,572.71 558.83,579.19 552.01,579.19 549.90,572.71" fill="#ff0000"/><polygon points="584.62,568.70 590.14,572.71 588.03,579.19 581.21,579.19 579.10,572.71" fill="#ff0000"/><polygon points="617.28,568.70 622.80,572.71 620.69,579.19 613.87,579.19 611.77,572.71" fill="#ff0000"/><polygon points="655.49,568.70 661.00,572.71 658.90,579.19 652.08,579.19 649.97,572.71" fill="#ff0000"/><polygon points="699.75,568.70 705.27,572.71 703.16,579.19 696.34,579.19 694.23,572.71" fill="#ff0000"/><polygon points="745.28,568.70 750.80,572.71 748.69,579.19 741.87,579.19 739.77,572.71" fill="#ff0000"/><polygon points="781.00,568.70 786.51,572.71 784.41,579.19 777.59,579.19 775.48,572.71" fill="#ff0000"/><polygon points="816.51,568.70 822.02,572.71 819.92,579.19 813.10,579.19 810.99,572.71" fill="#ff0000"/><polygon points="841.79,568.70 847.31,572.71 845.20,579.19 838.38,579.19 836.28,572.71" fill="#ff0000"/><polygon points="867.38,568.70 872.90,572.71 870.79,579.19 863.97,579.19 861.87,572.71" fill="#ff0000"/><polygon points="892.72,568.70 898.24,572.71 896.13,579.19 889.31,579.19 887.20,572.71" fill="#ff0000"/><polygon points="907.83,568.70 913.34,572.71 911.24,579.19 904.42,579.19 902.31,572.71" fill="#ff0000"/><polygon points="928.08,568.70 933.59,572.71 931.49,579.19 924.67,579.19 922.56,572.71" fill="#ff0000"/><polygon points="943.49,568.70 949.01,572.71 946.90,579.19 940.08,579.19 937.98,572.71" fill="#ff0000"/><polygon points="953.41,568.70 958.93,572.71 956.82,579.19 950.00,579.19 947.90,572.71" fill="#ff0000"/><line x1="1178.5" y1="77.6" x2="1178.5" y2="742.7" stroke="#000" stroke-width="3.0"/><line x1="1177.0" y1="741.2" x2="1986.58" y2="741.2" stroke="#000" stroke-width="3.0"/><line x1="1178.5" y1="707.85" x2="1184.5" y2="707.85" stroke="#000" stroke-width="3.0"/><line x1="1178.5" y1="641.60" x2="1191.0" y2="641.60" stroke="#000" stroke-width="3.0"/><text x="1164.5" y="651.60" text-anchor="end" class="tkb">-0.008</text><line x1="1178.5" y1="575.35" x2="1184.5" y2="575.35" stroke="#000" stroke-width="3.0"/><line x1="1178.5" y1="509.10" x2="1191.0" y2="509.10" stroke="#000" stroke-width="3.0"/><text x="1164.5" y="519.10" text-anchor="end" class="tkb">-0.004</text><line x1="1178.5" y1="442.85" x2="1184.5" y2="442.85" stroke="#000" stroke-width="3.0"/><line x1="1178.5" y1="376.60" x2="1191.0" y2="376.60" stroke="#000" stroke-width="3.0"/><text x="1164.5" y="386.60" text-anchor="end" class="tkb">0.000</text><line x1="1178.5" y1="310.35" x2="1184.5" y2="310.35" stroke="#000" stroke-width="3.0"/><line x1="1178.5" y1="244.10" x2="1191.0" y2="244.10" stroke="#000" stroke-width="3.0"/><text x="1164.5" y="254.10" text-anchor="end" class="tkb">0.004</text><line x1="1178.5" y1="177.85" x2="1184.5" y2="177.85" stroke="#000" stroke-width="3.0"/><line x1="1178.5" y1="111.60" x2="1191.0" y2="111.60" stroke="#000" stroke-width="3.0"/><text x="1164.5" y="121.60" text-anchor="end" class="tkb">0.008</text><line x1="1202.20" y1="741.2" x2="1202.20" y2="728.7" stroke="#000" stroke-width="3.0"/><text x="1202.20" y="779.5" text-anchor="middle" class="tkb">0</text><line x1="1251.13" y1="741.2" x2="1251.13" y2="735.2" stroke="#000" stroke-width="3.0"/><line x1="1300.06" y1="741.2" x2="1300.06" y2="728.7" stroke="#000" stroke-width="3.0"/><text x="1300.06" y="779.5" text-anchor="middle" class="tkb">2</text><line x1="1348.99" y1="741.2" x2="1348.99" y2="735.2" stroke="#000" stroke-width="3.0"/><line x1="1397.92" y1="741.2" x2="1397.92" y2="728.7" stroke="#000" stroke-width="3.0"/><text x="1397.92" y="779.5" text-anchor="middle" class="tkb">4</text><line x1="1446.85" y1="741.2" x2="1446.85" y2="735.2" stroke="#000" stroke-width="3.0"/><line x1="1495.78" y1="741.2" x2="1495.78" y2="728.7" stroke="#000" stroke-width="3.0"/><text x="1495.78" y="779.5" text-anchor="middle" class="tkb">6</text><line x1="1544.71" y1="741.2" x2="1544.71" y2="735.2" stroke="#000" stroke-width="3.0"/><line x1="1593.64" y1="741.2" x2="1593.64" y2="728.7" stroke="#000" stroke-width="3.0"/><text x="1593.64" y="779.5" text-anchor="middle" class="tkb">8</text><line x1="1642.57" y1="741.2" x2="1642.57" y2="735.2" stroke="#000" stroke-width="3.0"/><line x1="1691.50" y1="741.2" x2="1691.50" y2="728.7" stroke="#000" stroke-width="3.0"/><text x="1691.50" y="779.5" text-anchor="middle" class="tkb">10</text><line x1="1740.43" y1="741.2" x2="1740.43" y2="735.2" stroke="#000" stroke-width="3.0"/><line x1="1789.36" y1="741.2" x2="1789.36" y2="728.7" stroke="#000" stroke-width="3.0"/><text x="1789.36" y="779.5" text-anchor="middle" class="tkb">12</text><line x1="1838.29" y1="741.2" x2="1838.29" y2="735.2" stroke="#000" stroke-width="3.0"/><line x1="1887.22" y1="741.2" x2="1887.22" y2="728.7" stroke="#000" stroke-width="3.0"/><text x="1887.22" y="779.5" text-anchor="middle" class="tkb">14</text><line x1="1936.15" y1="741.2" x2="1936.15" y2="735.2" stroke="#000" stroke-width="3.0"/><line x1="1985.08" y1="741.2" x2="1985.08" y2="728.7" stroke="#000" stroke-width="3.0"/><text x="1985.08" y="779.5" text-anchor="middle" class="tkb">16</text><polyline points="1202.20,365.70 1214.92,361.50 1229.11,345.50 1247.41,351.00 1268.65,349.70 1294.04,350.00 1324.43,350.00 1355.60,349.70 1380.79,350.30 1402.23,348.70 1420.13,353.50 1434.96,338.80 1446.85,394.50 1458.94,378.00 1473.13,369.00 1489.47,381.00 1506.98,368.00 1527.83,377.00 1552.69,376.60 1580.77,376.60 1612.18,376.60 1648.93,376.60 1691.50,376.60 1735.29,376.60 1769.64,376.60 1803.79,376.60 1828.11,376.60 1852.72,376.60 1877.09,376.60 1891.62,376.60 1911.10,376.60 1925.92,376.60 1935.46,376.60" fill="none" stroke="#000" stroke-width="2.9" stroke-linejoin="miter" stroke-miterlimit="3"/><rect x="1198.40" y="361.90" width="7.60" height="7.60" fill="#000"/><rect x="1211.12" y="357.70" width="7.60" height="7.60" fill="#000"/><rect x="1225.31" y="341.70" width="7.60" height="7.60" fill="#000"/><rect x="1243.61" y="347.20" width="7.60" height="7.60" fill="#000"/><rect x="1264.85" y="345.90" width="7.60" height="7.60" fill="#000"/><rect x="1290.24" y="346.20" width="7.60" height="7.60" fill="#000"/><rect x="1320.63" y="346.20" width="7.60" height="7.60" fill="#000"/><rect x="1351.80" y="345.90" width="7.60" height="7.60" fill="#000"/><rect x="1376.99" y="346.50" width="7.60" height="7.60" fill="#000"/><rect x="1398.43" y="344.90" width="7.60" height="7.60" fill="#000"/><rect x="1416.33" y="349.70" width="7.60" height="7.60" fill="#000"/><rect x="1431.16" y="335.00" width="7.60" height="7.60" fill="#000"/><rect x="1443.05" y="390.70" width="7.60" height="7.60" fill="#000"/><rect x="1455.14" y="374.20" width="7.60" height="7.60" fill="#000"/><rect x="1469.33" y="365.20" width="7.60" height="7.60" fill="#000"/><rect x="1485.67" y="377.20" width="7.60" height="7.60" fill="#000"/><rect x="1503.18" y="364.20" width="7.60" height="7.60" fill="#000"/><rect x="1524.03" y="373.20" width="7.60" height="7.60" fill="#000"/><rect x="1548.89" y="372.80" width="7.60" height="7.60" fill="#000"/><rect x="1576.97" y="372.80" width="7.60" height="7.60" fill="#000"/><rect x="1608.38" y="372.80" width="7.60" height="7.60" fill="#000"/><rect x="1645.13" y="372.80" width="7.60" height="7.60" fill="#000"/><rect x="1687.70" y="372.80" width="7.60" height="7.60" fill="#000"/><rect x="1731.49" y="372.80" width="7.60" height="7.60" fill="#000"/><rect x="1765.84" y="372.80" width="7.60" height="7.60" fill="#000"/><rect x="1799.99" y="372.80" width="7.60" height="7.60" fill="#000"/><rect x="1824.31" y="372.80" width="7.60" height="7.60" fill="#000"/><rect x="1848.92" y="372.80" width="7.60" height="7.60" fill="#000"/><rect x="1873.29" y="372.80" width="7.60" height="7.60" fill="#000"/><rect x="1887.82" y="372.80" width="7.60" height="7.60" fill="#000"/><rect x="1907.30" y="372.80" width="7.60" height="7.60" fill="#000"/><rect x="1922.12" y="372.80" width="7.60" height="7.60" fill="#000"/><rect x="1931.66" y="372.80" width="7.60" height="7.60" fill="#000"/><polyline points="1202.20,378.00 1214.92,359.00 1229.11,288.20 1247.41,323.80 1268.65,309.50 1294.04,317.80 1324.43,313.40 1355.60,315.90 1380.79,315.90 1402.23,311.60 1420.13,325.40 1434.96,283.60 1446.85,441.70 1458.94,380.00 1473.13,366.00 1489.47,387.00 1506.98,364.00 1527.83,377.50 1552.69,376.00 1580.77,376.60 1612.18,376.60 1648.93,376.60 1691.50,376.60 1735.29,376.60 1769.64,376.60 1803.79,376.60 1828.11,376.60 1852.72,376.60 1877.09,376.60 1891.62,376.60 1911.10,376.60 1925.92,376.60 1935.46,376.60" fill="none" stroke="#000" stroke-width="2.9" stroke-linejoin="miter" stroke-miterlimit="3"/><circle cx="1202.20" cy="378.00" r="4.46" fill="#000"/><circle cx="1214.92" cy="359.00" r="4.46" fill="#000"/><circle cx="1229.11" cy="288.20" r="4.46" fill="#000"/><circle cx="1247.41" cy="323.80" r="4.46" fill="#000"/><circle cx="1268.65" cy="309.50" r="4.46" fill="#000"/><circle cx="1294.04" cy="317.80" r="4.46" fill="#000"/><circle cx="1324.43" cy="313.40" r="4.46" fill="#000"/><circle cx="1355.60" cy="315.90" r="4.46" fill="#000"/><circle cx="1380.79" cy="315.90" r="4.46" fill="#000"/><circle cx="1402.23" cy="311.60" r="4.46" fill="#000"/><circle cx="1420.13" cy="325.40" r="4.46" fill="#000"/><circle cx="1434.96" cy="283.60" r="4.46" fill="#000"/><circle cx="1446.85" cy="441.70" r="4.46" fill="#000"/><circle cx="1458.94" cy="380.00" r="4.46" fill="#000"/><circle cx="1473.13" cy="366.00" r="4.46" fill="#000"/><circle cx="1489.47" cy="387.00" r="4.46" fill="#000"/><circle cx="1506.98" cy="364.00" r="4.46" fill="#000"/><circle cx="1527.83" cy="377.50" r="4.46" fill="#000"/><circle cx="1552.69" cy="376.00" r="4.46" fill="#000"/><circle cx="1580.77" cy="376.60" r="4.46" fill="#000"/><circle cx="1612.18" cy="376.60" r="4.46" fill="#000"/><circle cx="1648.93" cy="376.60" r="4.46" fill="#000"/><circle cx="1691.50" cy="376.60" r="4.46" fill="#000"/><circle cx="1735.29" cy="376.60" r="4.46" fill="#000"/><circle cx="1769.64" cy="376.60" r="4.46" fill="#000"/><circle cx="1803.79" cy="376.60" r="4.46" fill="#000"/><circle cx="1828.11" cy="376.60" r="4.46" fill="#000"/><circle cx="1852.72" cy="376.60" r="4.46" fill="#000"/><circle cx="1877.09" cy="376.60" r="4.46" fill="#000"/><circle cx="1891.62" cy="376.60" r="4.46" fill="#000"/><circle cx="1911.10" cy="376.60" r="4.46" fill="#000"/><circle cx="1925.92" cy="376.60" r="4.46" fill="#000"/><circle cx="1935.46" cy="376.60" r="4.46" fill="#000"/><polyline points="1202.20,379.00 1214.92,358.00 1229.11,234.70 1247.41,310.30 1268.65,268.50 1294.04,292.70 1324.43,277.50 1355.60,287.20 1380.79,283.60 1402.23,278.80 1420.13,304.30 1434.96,220.80 1446.85,514.30 1458.94,398.00 1473.13,362.00 1489.47,396.00 1506.98,360.00 1527.83,378.00 1552.69,375.00 1580.77,376.60 1612.18,376.60 1648.93,376.60 1691.50,376.60 1735.29,376.60 1769.64,376.60 1803.79,376.60 1828.11,376.60 1852.72,376.60 1877.09,376.60 1891.62,376.60 1911.10,376.60 1925.92,376.60 1935.46,376.60" fill="none" stroke="#000" stroke-width="2.9" stroke-linejoin="miter" stroke-miterlimit="3"/><polygon points="1202.20,373.01 1207.38,381.99 1197.02,381.99" fill="#000"/><polygon points="1214.92,352.01 1220.10,360.99 1209.74,360.99" fill="#000"/><polygon points="1229.11,228.71 1234.29,237.69 1223.93,237.69" fill="#000"/><polygon points="1247.41,304.31 1252.59,313.29 1242.23,313.29" fill="#000"/><polygon points="1268.65,262.51 1273.83,271.49 1263.46,271.49" fill="#000"/><polygon points="1294.04,286.71 1299.22,295.69 1288.86,295.69" fill="#000"/><polygon points="1324.43,271.51 1329.61,280.49 1319.24,280.49" fill="#000"/><polygon points="1355.60,281.21 1360.78,290.19 1350.41,290.19" fill="#000"/><polygon points="1380.79,277.62 1385.98,286.59 1375.61,286.59" fill="#000"/><polygon points="1402.23,272.81 1407.41,281.79 1397.04,281.79" fill="#000"/><polygon points="1420.13,298.31 1425.32,307.29 1414.95,307.29" fill="#000"/><polygon points="1434.96,214.81 1440.14,223.79 1429.78,223.79" fill="#000"/><polygon points="1446.85,508.31 1452.03,517.29 1441.67,517.29" fill="#000"/><polygon points="1458.94,392.01 1464.12,400.99 1453.75,400.99" fill="#000"/><polygon points="1473.13,356.01 1478.31,364.99 1467.94,364.99" fill="#000"/><polygon points="1489.47,390.01 1494.65,398.99 1484.28,398.99" fill="#000"/><polygon points="1506.98,354.01 1512.17,362.99 1501.80,362.99" fill="#000"/><polygon points="1527.83,372.01 1533.01,380.99 1522.65,380.99" fill="#000"/><polygon points="1552.69,369.01 1557.87,377.99 1547.50,377.99" fill="#000"/><polygon points="1580.77,370.62 1585.95,379.59 1575.59,379.59" fill="#000"/><polygon points="1612.18,370.62 1617.37,379.59 1607.00,379.59" fill="#000"/><polygon points="1648.93,370.62 1654.11,379.59 1643.75,379.59" fill="#000"/><polygon points="1691.50,370.62 1696.68,379.59 1686.32,379.59" fill="#000"/><polygon points="1735.29,370.62 1740.48,379.59 1730.11,379.59" fill="#000"/><polygon points="1769.64,370.62 1774.82,379.59 1764.46,379.59" fill="#000"/><polygon points="1803.79,370.62 1808.98,379.59 1798.61,379.59" fill="#000"/><polygon points="1828.11,370.62 1833.30,379.59 1822.93,379.59" fill="#000"/><polygon points="1852.72,370.62 1857.91,379.59 1847.54,379.59" fill="#000"/><polygon points="1877.09,370.62 1882.27,379.59 1871.91,379.59" fill="#000"/><polygon points="1891.62,370.62 1896.81,379.59 1886.44,379.59" fill="#000"/><polygon points="1911.10,370.62 1916.28,379.59 1905.91,379.59" fill="#000"/><polygon points="1925.92,370.62 1931.11,379.59 1920.74,379.59" fill="#000"/><polygon points="1935.46,370.62 1940.65,379.59 1930.28,379.59" fill="#000"/><polyline points="1202.20,380.00 1214.92,357.00 1229.11,203.70 1247.41,304.00 1268.65,240.10 1294.04,280.60 1324.43,254.70 1355.60,271.60 1380.79,265.40 1402.23,255.30 1420.13,300.70 1434.96,164.50 1446.85,603.30 1458.94,420.00 1473.13,346.70 1489.47,408.00 1506.98,355.80 1527.83,379.00 1552.69,374.00 1580.77,376.60 1612.18,376.60 1648.93,376.60 1691.50,376.60 1735.29,376.60 1769.64,376.60 1803.79,376.60 1828.11,376.60 1852.72,376.60 1877.09,376.60 1891.62,376.60 1911.10,376.60 1925.92,376.60 1935.46,376.60" fill="none" stroke="#000" stroke-width="2.9" stroke-linejoin="miter" stroke-miterlimit="3"/><polygon points="1202.20,385.99 1197.02,377.01 1207.38,377.01" fill="#000"/><polygon points="1214.92,362.99 1209.74,354.01 1220.10,354.01" fill="#000"/><polygon points="1229.11,209.69 1223.93,200.71 1234.29,200.71" fill="#000"/><polygon points="1247.41,309.99 1242.23,301.01 1252.59,301.01" fill="#000"/><polygon points="1268.65,246.08 1263.46,237.11 1273.83,237.11" fill="#000"/><polygon points="1294.04,286.59 1288.86,277.61 1299.22,277.61" fill="#000"/><polygon points="1324.43,260.69 1319.24,251.71 1329.61,251.71" fill="#000"/><polygon points="1355.60,277.59 1350.41,268.61 1360.78,268.61" fill="#000"/><polygon points="1380.79,271.38 1375.61,262.41 1385.98,262.41" fill="#000"/><polygon points="1402.23,261.29 1397.04,252.31 1407.41,252.31" fill="#000"/><polygon points="1420.13,306.69 1414.95,297.71 1425.32,297.71" fill="#000"/><polygon points="1434.96,170.49 1429.78,161.51 1440.14,161.51" fill="#000"/><polygon points="1446.85,609.28 1441.67,600.31 1452.03,600.31" fill="#000"/><polygon points="1458.94,425.99 1453.75,417.01 1464.12,417.01" fill="#000"/><polygon points="1473.13,352.69 1467.94,343.71 1478.31,343.71" fill="#000"/><polygon points="1489.47,413.99 1484.28,405.01 1494.65,405.01" fill="#000"/><polygon points="1506.98,361.79 1501.80,352.81 1512.17,352.81" fill="#000"/><polygon points="1527.83,384.99 1522.65,376.01 1533.01,376.01" fill="#000"/><polygon points="1552.69,379.99 1547.50,371.01 1557.87,371.01" fill="#000"/><polygon points="1580.77,382.59 1575.59,373.61 1585.95,373.61" fill="#000"/><polygon points="1612.18,382.59 1607.00,373.61 1617.37,373.61" fill="#000"/><polygon points="1648.93,382.59 1643.75,373.61 1654.11,373.61" fill="#000"/><polygon points="1691.50,382.59 1686.32,373.61 1696.68,373.61" fill="#000"/><polygon points="1735.29,382.59 1730.11,373.61 1740.48,373.61" fill="#000"/><polygon points="1769.64,382.59 1764.46,373.61 1774.82,373.61" fill="#000"/><polygon points="1803.79,382.59 1798.61,373.61 1808.98,373.61" fill="#000"/><polygon points="1828.11,382.59 1822.93,373.61 1833.30,373.61" fill="#000"/><polygon points="1852.72,382.59 1847.54,373.61 1857.91,373.61" fill="#000"/><polygon points="1877.09,382.59 1871.91,373.61 1882.27,373.61" fill="#000"/><polygon points="1891.62,382.59 1886.44,373.61 1896.81,373.61" fill="#000"/><polygon points="1911.10,382.59 1905.91,373.61 1916.28,373.61" fill="#000"/><polygon points="1925.92,382.59 1920.74,373.61 1931.11,373.61" fill="#000"/><polygon points="1935.46,382.59 1930.28,373.61 1940.65,373.61" fill="#000"/><polyline points="1202.20,384.00 1214.92,357.00 1229.11,184.80 1247.41,305.00 1268.65,218.60 1294.04,280.60 1324.43,237.20 1355.60,264.40 1380.79,254.20 1402.23,239.60 1420.13,307.20 1434.96,111.10 1446.85,704.00 1458.94,440.80 1473.13,335.50 1489.47,424.30 1506.98,352.40 1527.83,380.50 1552.69,371.50 1580.77,377.50 1612.18,376.60 1648.93,376.60 1691.50,376.60 1735.29,376.60 1769.64,376.60 1803.79,376.60 1828.11,376.60 1852.72,376.60 1877.09,376.60 1891.62,376.60 1911.10,376.60 1925.92,376.60 1935.46,376.60" fill="none" stroke="#000" stroke-width="2.9" stroke-linejoin="miter" stroke-miterlimit="3"/><path d="M1202.20 378.11L1207.62 384.00L1202.20 389.89L1196.79 384.00Z" fill="#000"/><path d="M1214.92 351.11L1220.34 357.00L1214.92 362.89L1209.51 357.00Z" fill="#000"/><path d="M1229.11 178.91L1234.53 184.80L1229.11 190.69L1223.70 184.80Z" fill="#000"/><path d="M1247.41 299.11L1252.83 305.00L1247.41 310.89L1242.00 305.00Z" fill="#000"/><path d="M1268.65 212.71L1274.06 218.60L1268.65 224.49L1263.23 218.60Z" fill="#000"/><path d="M1294.04 274.71L1299.46 280.60L1294.04 286.49L1288.63 280.60Z" fill="#000"/><path d="M1324.43 231.31L1329.84 237.20L1324.43 243.09L1319.01 237.20Z" fill="#000"/><path d="M1355.60 258.51L1361.01 264.40L1355.60 270.29L1350.18 264.40Z" fill="#000"/><path d="M1380.79 248.31L1386.21 254.20L1380.79 260.09L1375.38 254.20Z" fill="#000"/><path d="M1402.23 233.71L1407.64 239.60L1402.23 245.49L1396.81 239.60Z" fill="#000"/><path d="M1420.13 301.31L1425.55 307.20L1420.13 313.09L1414.72 307.20Z" fill="#000"/><path d="M1434.96 105.21L1440.38 111.10L1434.96 116.99L1429.55 111.10Z" fill="#000"/><path d="M1446.85 698.11L1452.27 704.00L1446.85 709.89L1441.44 704.00Z" fill="#000"/><path d="M1458.94 434.91L1464.35 440.80L1458.94 446.69L1453.52 440.80Z" fill="#000"/><path d="M1473.13 329.61L1478.54 335.50L1473.13 341.39L1467.71 335.50Z" fill="#000"/><path d="M1489.47 418.41L1494.88 424.30L1489.47 430.19L1484.05 424.30Z" fill="#000"/><path d="M1506.98 346.51L1512.40 352.40L1506.98 358.29L1501.57 352.40Z" fill="#000"/><path d="M1527.83 374.61L1533.24 380.50L1527.83 386.39L1522.41 380.50Z" fill="#000"/><path d="M1552.69 365.61L1558.10 371.50L1552.69 377.39L1547.27 371.50Z" fill="#000"/><path d="M1580.77 371.61L1586.19 377.50L1580.77 383.39L1575.36 377.50Z" fill="#000"/><path d="M1612.18 370.71L1617.60 376.60L1612.18 382.49L1606.77 376.60Z" fill="#000"/><path d="M1648.93 370.71L1654.35 376.60L1648.93 382.49L1643.52 376.60Z" fill="#000"/><path d="M1691.50 370.71L1696.91 376.60L1691.50 382.49L1686.09 376.60Z" fill="#000"/><path d="M1735.29 370.71L1740.71 376.60L1735.29 382.49L1729.88 376.60Z" fill="#000"/><path d="M1769.64 370.71L1775.06 376.60L1769.64 382.49L1764.23 376.60Z" fill="#000"/><path d="M1803.79 370.71L1809.21 376.60L1803.79 382.49L1798.38 376.60Z" fill="#000"/><path d="M1828.11 370.71L1833.53 376.60L1828.11 382.49L1822.70 376.60Z" fill="#000"/><path d="M1852.72 370.71L1858.14 376.60L1852.72 382.49L1847.31 376.60Z" fill="#000"/><path d="M1877.09 370.71L1882.51 376.60L1877.09 382.49L1871.68 376.60Z" fill="#000"/><path d="M1891.62 370.71L1897.04 376.60L1891.62 382.49L1886.21 376.60Z" fill="#000"/><path d="M1911.10 370.71L1916.51 376.60L1911.10 382.49L1905.68 376.60Z" fill="#000"/><path d="M1925.92 370.71L1931.34 376.60L1925.92 382.49L1920.51 376.60Z" fill="#000"/><path d="M1935.46 370.71L1940.88 376.60L1935.46 382.49L1930.05 376.60Z" fill="#000"/><polyline points="1202.20,377.00 1214.92,377.00 1229.11,377.00 1247.41,377.00 1268.65,378.00 1294.04,376.60 1324.43,376.60 1355.60,376.60 1380.79,376.60 1402.23,376.60 1420.13,376.60 1434.96,376.60 1446.85,376.60 1458.94,376.60 1473.13,376.60 1489.47,376.60 1506.98,376.60 1527.83,376.60 1552.69,376.60 1580.77,376.60 1612.18,376.60 1648.93,376.60 1691.50,376.60 1735.29,376.60 1769.64,376.60 1803.79,376.60 1828.11,376.60 1852.72,376.60 1877.09,376.60 1891.62,376.60 1911.10,376.60 1925.92,376.60 1935.46,376.60" fill="none" stroke="#ff0000" stroke-width="2.9" stroke-linejoin="miter" stroke-miterlimit="3"/><polygon points="1196.22,377.00 1205.19,371.82 1205.19,382.18" fill="#ff0000"/><polygon points="1208.94,377.00 1217.91,371.82 1217.91,382.18" fill="#ff0000"/><polygon points="1223.13,377.00 1232.10,371.82 1232.10,382.18" fill="#ff0000"/><polygon points="1241.43,377.00 1250.40,371.82 1250.40,382.18" fill="#ff0000"/><polygon points="1262.66,378.00 1271.64,372.82 1271.64,383.18" fill="#ff0000"/><polygon points="1288.06,376.60 1297.03,371.42 1297.03,381.78" fill="#ff0000"/><polygon points="1318.44,376.60 1327.42,371.42 1327.42,381.78" fill="#ff0000"/><polygon points="1349.61,376.60 1358.59,371.42 1358.59,381.78" fill="#ff0000"/><polygon points="1374.81,376.60 1383.79,371.42 1383.79,381.78" fill="#ff0000"/><polygon points="1396.24,376.60 1405.22,371.42 1405.22,381.78" fill="#ff0000"/><polygon points="1414.15,376.60 1423.13,371.42 1423.13,381.78" fill="#ff0000"/><polygon points="1428.98,376.60 1437.95,371.42 1437.95,381.78" fill="#ff0000"/><polygon points="1440.87,376.60 1449.84,371.42 1449.84,381.78" fill="#ff0000"/><polygon points="1452.95,376.60 1461.93,371.42 1461.93,381.78" fill="#ff0000"/><polygon points="1467.14,376.60 1476.12,371.42 1476.12,381.78" fill="#ff0000"/><polygon points="1483.48,376.60 1492.46,371.42 1492.46,381.78" fill="#ff0000"/><polygon points="1501.00,376.60 1509.98,371.42 1509.98,381.78" fill="#ff0000"/><polygon points="1521.84,376.60 1530.82,371.42 1530.82,381.78" fill="#ff0000"/><polygon points="1546.70,376.60 1555.68,371.42 1555.68,381.78" fill="#ff0000"/><polygon points="1574.79,376.60 1583.76,371.42 1583.76,381.78" fill="#ff0000"/><polygon points="1606.20,376.60 1615.18,371.42 1615.18,381.78" fill="#ff0000"/><polygon points="1642.95,376.60 1651.92,371.42 1651.92,381.78" fill="#ff0000"/><polygon points="1685.52,376.60 1694.49,371.42 1694.49,381.78" fill="#ff0000"/><polygon points="1729.31,376.60 1738.28,371.42 1738.28,381.78" fill="#ff0000"/><polygon points="1763.66,376.60 1772.63,371.42 1772.63,381.78" fill="#ff0000"/><polygon points="1797.81,376.60 1806.79,371.42 1806.79,381.78" fill="#ff0000"/><polygon points="1822.13,376.60 1831.11,371.42 1831.11,381.78" fill="#ff0000"/><polygon points="1846.74,376.60 1855.72,371.42 1855.72,381.78" fill="#ff0000"/><polygon points="1871.11,376.60 1880.08,371.42 1880.08,381.78" fill="#ff0000"/><polygon points="1885.64,376.60 1894.62,371.42 1894.62,381.78" fill="#ff0000"/><polygon points="1905.11,376.60 1914.09,371.42 1914.09,381.78" fill="#ff0000"/><polygon points="1919.94,376.60 1928.92,371.42 1928.92,381.78" fill="#ff0000"/><polygon points="1929.48,376.60 1938.46,371.42 1938.46,381.78" fill="#ff0000"/><polyline points="1202.20,377.00 1214.92,407.50 1229.11,375.00 1247.41,372.70 1268.65,379.00 1294.04,376.00 1324.43,377.50 1355.60,376.00 1380.79,377.50 1402.23,376.00 1420.13,377.50 1434.96,376.00 1446.85,377.00 1458.94,376.60 1473.13,376.60 1489.47,376.60 1506.98,376.60 1527.83,376.60 1552.69,376.60 1580.77,376.60 1612.18,376.60 1648.93,376.60 1691.50,376.60 1735.29,376.60 1769.64,376.60 1803.79,376.60 1828.11,376.60 1852.72,376.60 1877.09,376.60 1891.62,376.60 1911.10,376.60 1925.92,376.60 1935.46,376.60" fill="none" stroke="#ff0000" stroke-width="2.9" stroke-linejoin="miter" stroke-miterlimit="3"/><polygon points="1208.18,377.00 1199.21,382.18 1199.21,371.82" fill="#ff0000"/><polygon points="1220.91,407.50 1211.93,412.68 1211.93,402.32" fill="#ff0000"/><polygon points="1235.10,375.00 1226.12,380.18 1226.12,369.82" fill="#ff0000"/><polygon points="1253.40,372.70 1244.42,377.88 1244.42,367.52" fill="#ff0000"/><polygon points="1274.63,379.00 1265.65,384.18 1265.65,373.82" fill="#ff0000"/><polygon points="1300.03,376.00 1291.05,381.18 1291.05,370.82" fill="#ff0000"/><polygon points="1330.41,377.50 1321.43,382.68 1321.43,372.32" fill="#ff0000"/><polygon points="1361.58,376.00 1352.60,381.18 1352.60,370.82" fill="#ff0000"/><polygon points="1386.78,377.50 1377.80,382.68 1377.80,372.32" fill="#ff0000"/><polygon points="1408.21,376.00 1399.23,381.18 1399.23,370.82" fill="#ff0000"/><polygon points="1426.12,377.50 1417.14,382.68 1417.14,372.32" fill="#ff0000"/><polygon points="1440.95,376.00 1431.97,381.18 1431.97,370.82" fill="#ff0000"/><polygon points="1452.84,377.00 1443.86,382.18 1443.86,371.82" fill="#ff0000"/><polygon points="1464.92,376.60 1455.94,381.78 1455.94,371.42" fill="#ff0000"/><polygon points="1479.11,376.60 1470.13,381.78 1470.13,371.42" fill="#ff0000"/><polygon points="1495.45,376.60 1486.48,381.78 1486.48,371.42" fill="#ff0000"/><polygon points="1512.97,376.60 1503.99,381.78 1503.99,371.42" fill="#ff0000"/><polygon points="1533.81,376.60 1524.84,381.78 1524.84,371.42" fill="#ff0000"/><polygon points="1558.67,376.60 1549.69,381.78 1549.69,371.42" fill="#ff0000"/><polygon points="1586.76,376.60 1577.78,381.78 1577.78,371.42" fill="#ff0000"/><polygon points="1618.17,376.60 1609.19,381.78 1609.19,371.42" fill="#ff0000"/><polygon points="1654.92,376.60 1645.94,381.78 1645.94,371.42" fill="#ff0000"/><polygon points="1697.48,376.60 1688.51,381.78 1688.51,371.42" fill="#ff0000"/><polygon points="1741.28,376.60 1732.30,381.78 1732.30,371.42" fill="#ff0000"/><polygon points="1775.63,376.60 1766.65,381.78 1766.65,371.42" fill="#ff0000"/><polygon points="1809.78,376.60 1800.80,381.78 1800.80,371.42" fill="#ff0000"/><polygon points="1834.10,376.60 1825.12,381.78 1825.12,371.42" fill="#ff0000"/><polygon points="1858.71,376.60 1849.73,381.78 1849.73,371.42" fill="#ff0000"/><polygon points="1883.08,376.60 1874.10,381.78 1874.10,371.42" fill="#ff0000"/><polygon points="1897.61,376.60 1888.63,381.78 1888.63,371.42" fill="#ff0000"/><polygon points="1917.08,376.60 1908.11,381.78 1908.11,371.42" fill="#ff0000"/><polygon points="1931.91,376.60 1922.93,381.78 1922.93,371.42" fill="#ff0000"/><polygon points="1941.45,376.60 1932.47,381.78 1932.47,371.42" fill="#ff0000"/><polyline points="1202.20,377.00 1214.92,455.50 1229.11,365.00 1247.41,360.80 1268.65,381.00 1294.04,375.00 1324.43,378.50 1355.60,375.00 1380.79,378.50 1402.23,375.00 1420.13,378.50 1434.96,375.00 1446.85,378.00 1458.94,376.60 1473.13,376.60 1489.47,376.60 1506.98,376.60 1527.83,376.60 1552.69,376.60 1580.77,376.60 1612.18,376.60 1648.93,376.60 1691.50,376.60 1735.29,376.60 1769.64,376.60 1803.79,376.60 1828.11,376.60 1852.72,376.60 1877.09,376.60 1891.62,376.60 1911.10,376.60 1925.92,376.60 1935.46,376.60" fill="none" stroke="#ff0000" stroke-width="2.9" stroke-linejoin="miter" stroke-miterlimit="3"/><circle cx="1202.20" cy="377.00" r="4.46" fill="#ff0000"/><circle cx="1214.92" cy="455.50" r="4.46" fill="#ff0000"/><circle cx="1229.11" cy="365.00" r="4.46" fill="#ff0000"/><circle cx="1247.41" cy="360.80" r="4.46" fill="#ff0000"/><circle cx="1268.65" cy="381.00" r="4.46" fill="#ff0000"/><circle cx="1294.04" cy="375.00" r="4.46" fill="#ff0000"/><circle cx="1324.43" cy="378.50" r="4.46" fill="#ff0000"/><circle cx="1355.60" cy="375.00" r="4.46" fill="#ff0000"/><circle cx="1380.79" cy="378.50" r="4.46" fill="#ff0000"/><circle cx="1402.23" cy="375.00" r="4.46" fill="#ff0000"/><circle cx="1420.13" cy="378.50" r="4.46" fill="#ff0000"/><circle cx="1434.96" cy="375.00" r="4.46" fill="#ff0000"/><circle cx="1446.85" cy="378.00" r="4.46" fill="#ff0000"/><circle cx="1458.94" cy="376.60" r="4.46" fill="#ff0000"/><circle cx="1473.13" cy="376.60" r="4.46" fill="#ff0000"/><circle cx="1489.47" cy="376.60" r="4.46" fill="#ff0000"/><circle cx="1506.98" cy="376.60" r="4.46" fill="#ff0000"/><circle cx="1527.83" cy="376.60" r="4.46" fill="#ff0000"/><circle cx="1552.69" cy="376.60" r="4.46" fill="#ff0000"/><circle cx="1580.77" cy="376.60" r="4.46" fill="#ff0000"/><circle cx="1612.18" cy="376.60" r="4.46" fill="#ff0000"/><circle cx="1648.93" cy="376.60" r="4.46" fill="#ff0000"/><circle cx="1691.50" cy="376.60" r="4.46" fill="#ff0000"/><circle cx="1735.29" cy="376.60" r="4.46" fill="#ff0000"/><circle cx="1769.64" cy="376.60" r="4.46" fill="#ff0000"/><circle cx="1803.79" cy="376.60" r="4.46" fill="#ff0000"/><circle cx="1828.11" cy="376.60" r="4.46" fill="#ff0000"/><circle cx="1852.72" cy="376.60" r="4.46" fill="#ff0000"/><circle cx="1877.09" cy="376.60" r="4.46" fill="#ff0000"/><circle cx="1891.62" cy="376.60" r="4.46" fill="#ff0000"/><circle cx="1911.10" cy="376.60" r="4.46" fill="#ff0000"/><circle cx="1925.92" cy="376.60" r="4.46" fill="#ff0000"/><circle cx="1935.46" cy="376.60" r="4.46" fill="#ff0000"/><polyline points="1202.20,377.00 1214.92,520.00 1229.11,360.80 1247.41,344.60 1268.65,383.00 1294.04,374.00 1324.43,380.00 1355.60,374.00 1380.79,380.00 1402.23,374.00 1420.13,380.00 1434.96,374.00 1446.85,380.00 1458.94,376.60 1473.13,376.60 1489.47,376.60 1506.98,376.60 1527.83,376.60 1552.69,376.60 1580.77,376.60 1612.18,376.60 1648.93,376.60 1691.50,376.60 1735.29,376.60 1769.64,376.60 1803.79,376.60 1828.11,376.60 1852.72,376.60 1877.09,376.60 1891.62,376.60 1911.10,376.60 1925.92,376.60 1935.46,376.60" fill="none" stroke="#ff0000" stroke-width="2.9" stroke-linejoin="miter" stroke-miterlimit="3"/><polygon points="1202.20,370.82 1203.76,374.85 1208.07,375.09 1204.73,377.82 1205.83,382.00 1202.20,379.66 1198.57,382.00 1199.67,377.82 1196.33,375.09 1200.64,374.85" fill="#ff0000"/><polygon points="1214.92,513.83 1216.49,517.85 1220.79,518.09 1217.45,520.82 1218.55,525.00 1214.92,522.66 1211.29,525.00 1212.39,520.82 1209.05,518.09 1213.36,517.85" fill="#ff0000"/><polygon points="1229.11,354.62 1230.68,358.65 1234.98,358.89 1231.64,361.62 1232.74,365.80 1229.11,363.46 1225.48,365.80 1226.58,361.62 1223.24,358.89 1227.55,358.65" fill="#ff0000"/><polygon points="1247.41,338.43 1248.97,342.45 1253.28,342.69 1249.94,345.42 1251.04,349.60 1247.41,347.26 1243.78,349.60 1244.88,345.42 1241.54,342.69 1245.85,342.45" fill="#ff0000"/><polygon points="1268.65,376.82 1270.21,380.85 1274.52,381.09 1271.18,383.82 1272.28,388.00 1268.65,385.66 1265.02,388.00 1266.12,383.82 1262.77,381.09 1267.08,380.85" fill="#ff0000"/><polygon points="1294.04,367.82 1295.61,371.85 1299.91,372.09 1296.57,374.82 1297.67,379.00 1294.04,376.66 1290.41,379.00 1291.51,374.82 1288.17,372.09 1292.48,371.85" fill="#ff0000"/><polygon points="1324.43,373.82 1325.99,377.85 1330.30,378.09 1326.96,380.82 1328.06,385.00 1324.43,382.66 1320.80,385.00 1321.90,380.82 1318.55,378.09 1322.86,377.85" fill="#ff0000"/><polygon points="1355.60,367.82 1357.16,371.85 1361.47,372.09 1358.13,374.82 1359.23,379.00 1355.60,376.66 1351.97,379.00 1353.07,374.82 1349.72,372.09 1354.03,371.85" fill="#ff0000"/><polygon points="1380.79,373.82 1382.36,377.85 1386.67,378.09 1383.32,380.82 1384.42,385.00 1380.79,382.66 1377.16,385.00 1378.26,380.82 1374.92,378.09 1379.23,377.85" fill="#ff0000"/><polygon points="1402.23,367.82 1403.79,371.85 1408.10,372.09 1404.76,374.82 1405.86,379.00 1402.23,376.66 1398.60,379.00 1399.70,374.82 1396.35,372.09 1400.66,371.85" fill="#ff0000"/><polygon points="1420.13,373.82 1421.70,377.85 1426.01,378.09 1422.66,380.82 1423.76,385.00 1420.13,382.66 1416.50,385.00 1417.60,380.82 1414.26,378.09 1418.57,377.85" fill="#ff0000"/><polygon points="1434.96,367.82 1436.52,371.85 1440.83,372.09 1437.49,374.82 1438.59,379.00 1434.96,376.66 1431.33,379.00 1432.43,374.82 1429.09,372.09 1433.40,371.85" fill="#ff0000"/><polygon points="1446.85,373.82 1448.41,377.85 1452.72,378.09 1449.38,380.82 1450.48,385.00 1446.85,382.66 1443.22,385.00 1444.32,380.82 1440.98,378.09 1445.29,377.85" fill="#ff0000"/><polygon points="1458.94,370.43 1460.50,374.45 1464.81,374.69 1461.47,377.42 1462.57,381.60 1458.94,379.26 1455.31,381.60 1456.41,377.42 1453.06,374.69 1457.37,374.45" fill="#ff0000"/><polygon points="1473.13,370.43 1474.69,374.45 1479.00,374.69 1475.66,377.42 1476.75,381.60 1473.13,379.26 1469.50,381.60 1470.60,377.42 1467.25,374.69 1471.56,374.45" fill="#ff0000"/><polygon points="1489.47,370.43 1491.03,374.45 1495.34,374.69 1492.00,377.42 1493.10,381.60 1489.47,379.26 1485.84,381.60 1486.94,377.42 1483.60,374.69 1487.90,374.45" fill="#ff0000"/><polygon points="1506.98,370.43 1508.55,374.45 1512.86,374.69 1509.51,377.42 1510.61,381.60 1506.98,379.26 1503.36,381.60 1504.46,377.42 1501.11,374.69 1505.42,374.45" fill="#ff0000"/><polygon points="1527.83,370.43 1529.39,374.45 1533.70,374.69 1530.36,377.42 1531.46,381.60 1527.83,379.26 1524.20,381.60 1525.30,377.42 1521.96,374.69 1526.27,374.45" fill="#ff0000"/><polygon points="1552.69,370.43 1554.25,374.45 1558.56,374.69 1555.22,377.42 1556.32,381.60 1552.69,379.26 1549.06,381.60 1550.16,377.42 1546.81,374.69 1551.12,374.45" fill="#ff0000"/><polygon points="1580.77,370.43 1582.33,374.45 1586.64,374.69 1583.30,377.42 1584.40,381.60 1580.77,379.26 1577.14,381.60 1578.24,377.42 1574.90,374.69 1579.21,374.45" fill="#ff0000"/><polygon points="1612.18,370.43 1613.75,374.45 1618.06,374.69 1614.71,377.42 1615.81,381.60 1612.18,379.26 1608.55,381.60 1609.65,377.42 1606.31,374.69 1610.62,374.45" fill="#ff0000"/><polygon points="1648.93,370.43 1650.49,374.45 1654.80,374.69 1651.46,377.42 1652.56,381.60 1648.93,379.26 1645.30,381.60 1646.40,377.42 1643.06,374.69 1647.37,374.45" fill="#ff0000"/><polygon points="1691.50,370.43 1693.06,374.45 1697.37,374.69 1694.03,377.42 1695.13,381.60 1691.50,379.26 1687.87,381.60 1688.97,377.42 1685.63,374.69 1689.94,374.45" fill="#ff0000"/><polygon points="1735.29,370.43 1736.86,374.45 1741.17,374.69 1737.82,377.42 1738.92,381.60 1735.29,379.26 1731.66,381.60 1732.76,377.42 1729.42,374.69 1733.73,374.45" fill="#ff0000"/><polygon points="1769.64,370.43 1771.20,374.45 1775.51,374.69 1772.17,377.42 1773.27,381.60 1769.64,379.26 1766.01,381.60 1767.11,377.42 1763.77,374.69 1768.08,374.45" fill="#ff0000"/><polygon points="1803.79,370.43 1805.36,374.45 1809.67,374.69 1806.32,377.42 1807.42,381.60 1803.79,379.26 1800.16,381.60 1801.26,377.42 1797.92,374.69 1802.23,374.45" fill="#ff0000"/><polygon points="1828.11,370.43 1829.68,374.45 1833.99,374.69 1830.64,377.42 1831.74,381.60 1828.11,379.26 1824.48,381.60 1825.58,377.42 1822.24,374.69 1826.55,374.45" fill="#ff0000"/><polygon points="1852.72,370.43 1854.29,374.45 1858.60,374.69 1855.25,377.42 1856.35,381.60 1852.72,379.26 1849.09,381.60 1850.19,377.42 1846.85,374.69 1851.16,374.45" fill="#ff0000"/><polygon points="1877.09,370.43 1878.65,374.45 1882.96,374.69 1879.62,377.42 1880.72,381.60 1877.09,379.26 1873.46,381.60 1874.56,377.42 1871.22,374.69 1875.53,374.45" fill="#ff0000"/><polygon points="1891.62,370.43 1893.19,374.45 1897.50,374.69 1894.15,377.42 1895.25,381.60 1891.62,379.26 1887.99,381.60 1889.09,377.42 1885.75,374.69 1890.06,374.45" fill="#ff0000"/><polygon points="1911.10,370.43 1912.66,374.45 1916.97,374.69 1913.63,377.42 1914.73,381.60 1911.10,379.26 1907.47,381.60 1908.57,377.42 1905.23,374.69 1909.53,374.45" fill="#ff0000"/><polygon points="1925.92,370.43 1927.49,374.45 1931.80,374.69 1928.45,377.42 1929.55,381.60 1925.92,379.26 1922.29,381.60 1923.39,377.42 1920.05,374.69 1924.36,374.45" fill="#ff0000"/><polygon points="1935.46,370.43 1937.03,374.45 1941.34,374.69 1937.99,377.42 1939.09,381.60 1935.46,379.26 1931.84,381.60 1932.94,377.42 1929.59,374.69 1933.90,374.45" fill="#ff0000"/><polyline points="1202.20,377.00 1214.92,596.00 1229.11,353.00 1247.41,326.30 1268.65,386.00 1294.04,373.00 1324.43,381.50 1355.60,373.00 1380.79,381.50 1402.23,373.00 1420.13,381.50 1434.96,373.00 1446.85,381.50 1458.94,376.60 1473.13,376.60 1489.47,376.60 1506.98,376.60 1527.83,376.60 1552.69,376.60 1580.77,376.60 1612.18,376.60 1648.93,376.60 1691.50,376.60 1735.29,376.60 1769.64,376.60 1803.79,376.60 1828.11,376.60 1852.72,376.60 1877.09,376.60 1891.62,376.60 1911.10,376.60 1925.92,376.60 1935.46,376.60" fill="none" stroke="#ff0000" stroke-width="2.9" stroke-linejoin="miter" stroke-miterlimit="3"/><polygon points="1202.20,371.49 1207.44,375.30 1205.44,381.46 1198.96,381.46 1196.96,375.30" fill="#ff0000"/><polygon points="1214.92,590.49 1220.16,594.30 1218.16,600.46 1211.68,600.46 1209.68,594.30" fill="#ff0000"/><polygon points="1229.11,347.49 1234.35,351.30 1232.35,357.46 1225.87,357.46 1223.87,351.30" fill="#ff0000"/><polygon points="1247.41,320.79 1252.65,324.60 1250.65,330.76 1244.17,330.76 1242.17,324.60" fill="#ff0000"/><polygon points="1268.65,380.49 1273.89,384.30 1271.89,390.46 1265.41,390.46 1263.41,384.30" fill="#ff0000"/><polygon points="1294.04,367.49 1299.28,371.30 1297.28,377.46 1290.80,377.46 1288.80,371.30" fill="#ff0000"/><polygon points="1324.43,375.99 1329.67,379.80 1327.67,385.96 1321.19,385.96 1319.19,379.80" fill="#ff0000"/><polygon points="1355.60,367.49 1360.84,371.30 1358.83,377.46 1352.36,377.46 1350.36,371.30" fill="#ff0000"/><polygon points="1380.79,375.99 1386.03,379.80 1384.03,385.96 1377.56,385.96 1375.55,379.80" fill="#ff0000"/><polygon points="1402.23,367.49 1407.47,371.30 1405.46,377.46 1398.99,377.46 1396.99,371.30" fill="#ff0000"/><polygon points="1420.13,375.99 1425.37,379.80 1423.37,385.96 1416.90,385.96 1414.89,379.80" fill="#ff0000"/><polygon points="1434.96,367.49 1440.20,371.30 1438.20,377.46 1431.72,377.46 1429.72,371.30" fill="#ff0000"/><polygon points="1446.85,375.99 1452.09,379.80 1450.09,385.96 1443.61,385.96 1441.61,379.80" fill="#ff0000"/><polygon points="1458.94,371.09 1464.18,374.90 1462.17,381.06 1455.70,381.06 1453.70,374.90" fill="#ff0000"/><polygon points="1473.13,371.09 1478.37,374.90 1476.36,381.06 1469.89,381.06 1467.89,374.90" fill="#ff0000"/><polygon points="1489.47,371.09 1494.71,374.90 1492.71,381.06 1486.23,381.06 1484.23,374.90" fill="#ff0000"/><polygon points="1506.98,371.09 1512.23,374.90 1510.22,381.06 1503.75,381.06 1501.74,374.90" fill="#ff0000"/><polygon points="1527.83,371.09 1533.07,374.90 1531.07,381.06 1524.59,381.06 1522.59,374.90" fill="#ff0000"/><polygon points="1552.69,371.09 1557.93,374.90 1555.92,381.06 1549.45,381.06 1547.45,374.90" fill="#ff0000"/><polygon points="1580.77,371.09 1586.01,374.90 1584.01,381.06 1577.53,381.06 1575.53,374.90" fill="#ff0000"/><polygon points="1612.18,371.09 1617.42,374.90 1615.42,381.06 1608.95,381.06 1606.94,374.90" fill="#ff0000"/><polygon points="1648.93,371.09 1654.17,374.90 1652.17,381.06 1645.69,381.06 1643.69,374.90" fill="#ff0000"/><polygon points="1691.50,371.09 1696.74,374.90 1694.74,381.06 1688.26,381.06 1686.26,374.90" fill="#ff0000"/><polygon points="1735.29,371.09 1740.53,374.90 1738.53,381.06 1732.05,381.06 1730.05,374.90" fill="#ff0000"/><polygon points="1769.64,371.09 1774.88,374.90 1772.88,381.06 1766.40,381.06 1764.40,374.90" fill="#ff0000"/><polygon points="1803.79,371.09 1809.03,374.90 1807.03,381.06 1800.56,381.06 1798.55,374.90" fill="#ff0000"/><polygon points="1828.11,371.09 1833.35,374.90 1831.35,381.06 1824.87,381.06 1822.87,374.90" fill="#ff0000"/><polygon points="1852.72,371.09 1857.96,374.90 1855.96,381.06 1849.49,381.06 1847.48,374.90" fill="#ff0000"/><polygon points="1877.09,371.09 1882.33,374.90 1880.33,381.06 1873.85,381.06 1871.85,374.90" fill="#ff0000"/><polygon points="1891.62,371.09 1896.86,374.90 1894.86,381.06 1888.39,381.06 1886.38,374.90" fill="#ff0000"/><polygon points="1911.10,371.09 1916.34,374.90 1914.34,381.06 1907.86,381.06 1905.86,374.90" fill="#ff0000"/><polygon points="1925.92,371.09 1931.16,374.90 1929.16,381.06 1922.68,381.06 1920.68,374.90" fill="#ff0000"/><polygon points="1935.46,371.09 1940.71,374.90 1938.70,381.06 1932.23,381.06 1930.22,374.90" fill="#ff0000"/><text x="518.5" y="155.6" fill="#000" class="lg">traditional micro coextrusion</text><line x1="518" y1="187.9" x2="591" y2="187.9" stroke="#000" stroke-width="2.8"/><rect x="550.70" y="184.10" width="7.60" height="7.60" fill="#000"/><text x="599" y="197.90" fill="#000" class="lg">0.05mm<tspan class="sup" dy="-12">3</tspan><tspan dy="12" dx="0.5">/s</tspan></text><line x1="741" y1="187.9" x2="814" y2="187.9" stroke="#000" stroke-width="2.8"/><circle cx="777.80" cy="187.90" r="4.46" fill="#000"/><text x="822" y="197.90" fill="#000" class="lg">0.1mm<tspan class="sup" dy="-12">3</tspan><tspan dy="12" dx="0.5">/s</tspan></text><line x1="518" y1="230.2" x2="591" y2="230.2" stroke="#000" stroke-width="2.8"/><polygon points="554.50,224.21 559.68,233.19 549.32,233.19" fill="#000"/><text x="599" y="240.20" fill="#000" class="lg">0.15mm<tspan class="sup" dy="-12">3</tspan><tspan dy="12" dx="0.5">/s</tspan></text><line x1="741" y1="230.2" x2="814" y2="230.2" stroke="#000" stroke-width="2.8"/><polygon points="777.80,236.19 772.62,227.21 782.98,227.21" fill="#000"/><text x="822" y="240.20" fill="#000" class="lg">0.2mm<tspan class="sup" dy="-12">3</tspan><tspan dy="12" dx="0.5">/s</tspan></text><line x1="518" y1="272.2" x2="591" y2="272.2" stroke="#000" stroke-width="2.8"/><path d="M554.50 266.31L559.91 272.20L554.50 278.09L549.09 272.20Z" fill="#000"/><text x="599" y="282.20" fill="#000" class="lg">0.25mm<tspan class="sup" dy="-12">3</tspan><tspan dy="12" dx="0.5">/s</tspan></text><text x="519.2" y="359.0" style="fill:#ff0000;stroke:#ff0000" class="lg">gas-assisted micro coextrusion</text><line x1="518" y1="390.1" x2="591" y2="390.1" stroke="#ff0000" stroke-width="2.8"/><polygon points="548.51,390.10 557.49,384.92 557.49,395.28" fill="#ff0000"/><text x="599" y="401.00" style="fill:#ff0000;stroke:#ff0000" class="lg">0.05mm<tspan class="sup" dy="-12">3</tspan><tspan dy="12" dx="0.5">/s</tspan></text><line x1="732" y1="390.1" x2="806" y2="390.1" stroke="#ff0000" stroke-width="2.8"/><polygon points="775.99,390.10 767.01,395.28 767.01,384.92" fill="#ff0000"/><text x="814" y="401.00" style="fill:#ff0000;stroke:#ff0000" class="lg">0.1mm<tspan class="sup" dy="-12">3</tspan><tspan dy="12" dx="0.5">/s</tspan></text><line x1="518" y1="432.2" x2="591" y2="432.2" stroke="#ff0000" stroke-width="2.8"/><circle cx="554.50" cy="432.20" r="4.46" fill="#ff0000"/><text x="599" y="443.10" style="fill:#ff0000;stroke:#ff0000" class="lg">0.15mm<tspan class="sup" dy="-12">3</tspan><tspan dy="12" dx="0.5">/s</tspan></text><line x1="732" y1="432.2" x2="806" y2="432.2" stroke="#ff0000" stroke-width="2.8"/><polygon points="770.00,426.02 771.56,430.05 775.87,430.29 772.53,433.02 773.63,437.20 770.00,434.86 766.37,437.20 767.47,433.02 764.13,430.29 768.44,430.05" fill="#ff0000"/><text x="814" y="443.10" style="fill:#ff0000;stroke:#ff0000" class="lg">0.2mm<tspan class="sup" dy="-12">3</tspan><tspan dy="12" dx="0.5">/s</tspan></text><line x1="518" y1="474.5" x2="591" y2="474.5" stroke="#ff0000" stroke-width="2.8"/><polygon points="554.50,468.99 559.74,472.80 557.74,478.96 551.26,478.96 549.26,472.80" fill="#ff0000"/><text x="599" y="485.40" style="fill:#ff0000;stroke:#ff0000" class="lg">0.25mm<tspan class="sup" dy="-12">3</tspan><tspan dy="12" dx="0.5">/s</tspan></text><text x="1541.5" y="157.3" fill="#000" class="lgb">traditional micro coextrusion</text><line x1="1540" y1="189.5" x2="1610" y2="189.5" stroke="#000" stroke-width="2.8"/><rect x="1570.90" y="185.70" width="7.60" height="7.60" fill="#000"/><text x="1616" y="199.50" fill="#000" class="lgb">0.05mm<tspan class="sup" dy="-12">3</tspan><tspan dy="12" dx="0.5">/s</tspan></text><line x1="1754.6" y1="189.5" x2="1824.7" y2="189.5" stroke="#000" stroke-width="2.8"/><circle cx="1790.20" cy="189.50" r="4.46" fill="#000"/><text x="1831" y="199.50" fill="#000" class="lgb">0.1mm<tspan class="sup" dy="-12">3</tspan><tspan dy="12" dx="0.5">/s</tspan></text><line x1="1540" y1="232.7" x2="1610" y2="232.7" stroke="#000" stroke-width="2.8"/><polygon points="1574.70,226.71 1579.88,235.69 1569.52,235.69" fill="#000"/><text x="1616" y="242.70" fill="#000" class="lgb">0.15mm<tspan class="sup" dy="-12">3</tspan><tspan dy="12" dx="0.5">/s</tspan></text><line x1="1754.6" y1="232.7" x2="1824.7" y2="232.7" stroke="#000" stroke-width="2.8"/><polygon points="1790.20,238.69 1785.02,229.71 1795.38,229.71" fill="#000"/><text x="1831" y="242.70" fill="#000" class="lgb">0.2mm<tspan class="sup" dy="-12">3</tspan><tspan dy="12" dx="0.5">/s</tspan></text><line x1="1540" y1="275.2" x2="1610" y2="275.2" stroke="#000" stroke-width="2.8"/><path d="M1574.70 269.31L1580.12 275.20L1574.70 281.09L1569.29 275.20Z" fill="#000"/><text x="1616" y="285.20" fill="#000" class="lgb">0.25mm<tspan class="sup" dy="-12">3</tspan><tspan dy="12" dx="0.5">/s</tspan></text><text x="1541.2" y="478.0" style="fill:#ff0000;stroke:#ff0000" class="lgb">gas-assisted micro coextrusion</text><line x1="1540" y1="510.1" x2="1610" y2="510.1" stroke="#ff0000" stroke-width="2.8"/><polygon points="1568.72,510.10 1577.69,504.92 1577.69,515.28" fill="#ff0000"/><text x="1616" y="520.10" style="fill:#ff0000;stroke:#ff0000" class="lgb">0.05mm<tspan class="sup" dy="-12">3</tspan><tspan dy="12" dx="0.5">/s</tspan></text><line x1="1746.5" y1="510.1" x2="1816.7" y2="510.1" stroke="#ff0000" stroke-width="2.8"/><polygon points="1788.18,510.10 1779.21,515.28 1779.21,504.92" fill="#ff0000"/><text x="1823" y="520.10" style="fill:#ff0000;stroke:#ff0000" class="lgb">0.1mm<tspan class="sup" dy="-12">3</tspan><tspan dy="12" dx="0.5">/s</tspan></text><line x1="1540" y1="552.7" x2="1610" y2="552.7" stroke="#ff0000" stroke-width="2.8"/><circle cx="1574.70" cy="552.70" r="4.46" fill="#ff0000"/><text x="1616" y="562.70" style="fill:#ff0000;stroke:#ff0000" class="lgb">0.15mm<tspan class="sup" dy="-12">3</tspan><tspan dy="12" dx="0.5">/s</tspan></text><line x1="1746.5" y1="552.7" x2="1816.7" y2="552.7" stroke="#ff0000" stroke-width="2.8"/><polygon points="1782.20,546.53 1783.76,550.55 1788.07,550.79 1784.73,553.52 1785.83,557.70 1782.20,555.36 1778.57,557.70 1779.67,553.52 1776.33,550.79 1780.64,550.55" fill="#ff0000"/><text x="1823" y="562.70" style="fill:#ff0000;stroke:#ff0000" class="lgb">0.2mm<tspan class="sup" dy="-12">3</tspan><tspan dy="12" dx="0.5">/s</tspan></text><line x1="1540" y1="595.2" x2="1610" y2="595.2" stroke="#ff0000" stroke-width="2.8"/><polygon points="1574.70,589.69 1579.94,593.50 1577.94,599.66 1571.46,599.66 1569.46,593.50" fill="#ff0000"/><text x="1616" y="605.20" style="fill:#ff0000;stroke:#ff0000" class="lgb">0.25mm<tspan class="sup" dy="-12">3</tspan><tspan dy="12" dx="0.5">/s</tspan></text><text x="0.5" y="41" class="pl">(a)</text><text x="1165" y="41" class="pl">(b)</text><text x="480.5" y="841" class="ax2">Z-axis (mm)</text><text x="1481" y="840.5" class="axb">Z-axis <tspan dy="18.5" dx="1.5">(</tspan><tspan dy="-18.5" dx="0.5">mm</tspan><tspan dy="18.5" dx="1">)</tspan></text><text transform="translate(46,496) rotate(-90)" class="ax"><tspan font-style="italic">N</tspan><tspan class="sub" dy="9">2</tspan><tspan dy="-9"> (MPa)</tspan></text><text transform="translate(1066,488) rotate(-90)" class="ax"><tspan font-style="italic">N</tspan><tspan class="sub" dy="9">2</tspan><tspan dy="-9"> (MPa)</tspan></text>
</svg>
</body></html>
